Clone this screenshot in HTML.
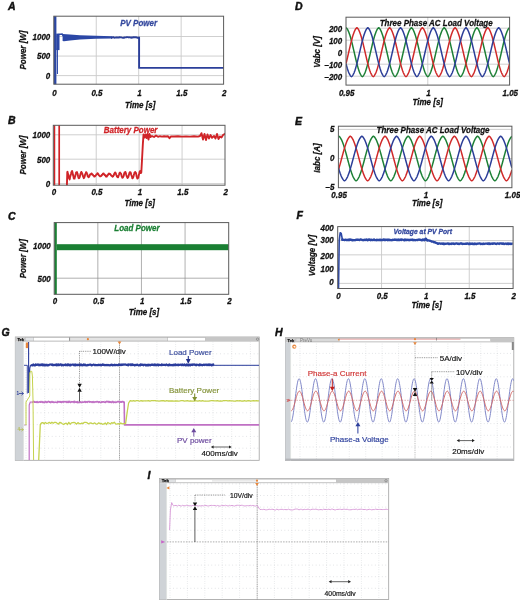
<!DOCTYPE html><html><head><meta charset="utf-8"><style>html,body{margin:0;padding:0;background:#fff;}svg{display:block;}</style></head><body>
<svg width="520" height="601" viewBox="0 0 520 601" style="font-family:&quot;Liberation Sans&quot;,sans-serif">
<rect width="520" height="601" fill="#fff"/>
<g opacity="0.999">
<text x="8.00" y="9.50" font-size="10.5" text-anchor="start" fill="#111" style="font-weight:bold;font-style:italic"  stroke="#111" stroke-width="0.45">A</text>
<text x="8.00" y="124.00" font-size="10.5" text-anchor="start" fill="#111" style="font-weight:bold;font-style:italic"  stroke="#111" stroke-width="0.45">B</text>
<text x="8.00" y="219.50" font-size="10.5" text-anchor="start" fill="#111" style="font-weight:bold;font-style:italic"  stroke="#111" stroke-width="0.45">C</text>
<text x="295.00" y="9.70" font-size="10.5" text-anchor="start" fill="#111" style="font-weight:bold;font-style:italic"  stroke="#111" stroke-width="0.45">D</text>
<text x="295.00" y="124.50" font-size="10.5" text-anchor="start" fill="#111" style="font-weight:bold;font-style:italic"  stroke="#111" stroke-width="0.45">E</text>
<text x="296.50" y="219.00" font-size="10.5" text-anchor="start" fill="#111" style="font-weight:bold;font-style:italic"  stroke="#111" stroke-width="0.45">F</text>
<text x="1.50" y="336.00" font-size="10.5" text-anchor="start" fill="#111" style="font-weight:bold;font-style:italic"  stroke="#111" stroke-width="0.45">G</text>
<text x="275.00" y="335.80" font-size="10.5" text-anchor="start" fill="#111" style="font-weight:bold;font-style:italic"  stroke="#111" stroke-width="0.45">H</text>
<text x="147.50" y="479.00" font-size="10.5" text-anchor="start" fill="#111" style="font-weight:bold;font-style:italic"  stroke="#111" stroke-width="0.45">I</text>
<line x1="96.25" y1="16.20" x2="96.25" y2="84.20" stroke="#c9c9c9" stroke-width="0.9" />
<line x1="138.70" y1="16.20" x2="138.70" y2="84.20" stroke="#c9c9c9" stroke-width="0.9" />
<line x1="181.15" y1="16.20" x2="181.15" y2="84.20" stroke="#c9c9c9" stroke-width="0.9" />
<line x1="53.80" y1="75.60" x2="223.60" y2="75.60" stroke="#c9c9c9" stroke-width="0.9" />
<line x1="53.80" y1="56.05" x2="223.60" y2="56.05" stroke="#c9c9c9" stroke-width="0.9" />
<line x1="53.80" y1="36.50" x2="223.60" y2="36.50" stroke="#c9c9c9" stroke-width="0.9" />
<clipPath id="cA"><rect x="53.8" y="16.2" width="169.8" height="68.0"/></clipPath>
<text x="0" y="0" transform="translate(54.50,95.70) scale(1.0,1.1)" font-size="8" text-anchor="middle" fill="#111" style="font-weight:bold;font-style:italic"  stroke="#111" stroke-width="0.25">0</text>
<text x="0" y="0" transform="translate(96.95,95.70) scale(1.0,1.1)" font-size="8" text-anchor="middle" fill="#111" style="font-weight:bold;font-style:italic"  stroke="#111" stroke-width="0.25">0.5</text>
<text x="0" y="0" transform="translate(139.40,95.70) scale(1.0,1.1)" font-size="8" text-anchor="middle" fill="#111" style="font-weight:bold;font-style:italic"  stroke="#111" stroke-width="0.25">1</text>
<text x="0" y="0" transform="translate(181.85,95.70) scale(1.0,1.1)" font-size="8" text-anchor="middle" fill="#111" style="font-weight:bold;font-style:italic"  stroke="#111" stroke-width="0.25">1.5</text>
<text x="0" y="0" transform="translate(224.30,95.70) scale(1.0,1.1)" font-size="8" text-anchor="middle" fill="#111" style="font-weight:bold;font-style:italic"  stroke="#111" stroke-width="0.25">2</text>
<text x="0" y="0" transform="translate(50.30,78.70) scale(1.0,1.1)" font-size="8" text-anchor="end" fill="#111" style="font-weight:bold;font-style:italic"  stroke="#111" stroke-width="0.25">0</text>
<text x="0" y="0" transform="translate(50.30,59.15) scale(1.0,1.1)" font-size="8" text-anchor="end" fill="#111" style="font-weight:bold;font-style:italic"  stroke="#111" stroke-width="0.25">500</text>
<text x="0" y="0" transform="translate(50.30,39.60) scale(1.0,1.1)" font-size="8" text-anchor="end" fill="#111" style="font-weight:bold;font-style:italic"  stroke="#111" stroke-width="0.25">1000</text>
<text x="0" y="0" transform="translate(140.20,107.90) scale(1.0,1.1)" font-size="8" text-anchor="middle" fill="#111" style="font-weight:bold;font-style:italic"  stroke="#111" stroke-width="0.25">Time [s]</text>
<text x="0" y="0" font-size="8" text-anchor="middle" fill="#111" stroke="#111" stroke-width="0.25" style="font-weight:bold;font-style:italic" transform="translate(26.30,50.00) rotate(-90) scale(1,1.1)">Power [W]</text>
<g clip-path="url(#cA)">
<rect x="53.50" y="15.00" width="2.90" height="70.00" fill="#2b47a6" />
<rect x="56.20" y="33.60" width="3.30" height="16.50" fill="#2b47a6" />
<line x1="57.40" y1="48.00" x2="57.40" y2="74.00" stroke="#2b47a6" stroke-width="1.1" />
<path d="M58.50,34.40 L62.30,34.10 L63.20,36.00" fill="none" stroke="#2b47a6" stroke-width="1.5" stroke-linejoin="round" />
<path d="M62.60,34.00 L70.00,34.60 L80.00,35.20 L95.80,35.80 L112.00,36.30 L112.00,38.50 L95.80,38.80 L80.00,39.60 L70.00,40.40 L64.00,41.30 L62.60,41.00Z" fill="#2b47a6"/>
<path d="M111.00,37.77 L111.80,37.76 L112.60,37.14 L113.40,37.16 L114.20,37.68 L115.00,37.62 L115.80,37.57 L116.60,37.32 L117.40,37.52 L118.20,37.52 L119.00,37.51 L119.80,37.21 L120.60,37.40 L121.40,37.38 L122.20,37.61 L123.00,37.80 L123.80,37.76 L124.60,37.48 L125.40,37.41 L126.20,37.29 L127.00,37.13 L127.80,37.12 L128.60,37.43 L129.40,37.32 L130.20,37.37 L131.00,37.72 L131.80,37.47 L132.60,37.49 L133.40,37.27 L134.20,37.12 L135.00,37.33 L135.80,37.20 L136.60,37.46 L137.40,37.80 L138.20,37.57 L139.10,37.40 L139.10,67.90 L224.50,67.90" fill="none" stroke="#2b3f9a" stroke-width="1.9" stroke-linejoin="round" />
</g>
<rect x="53.8" y="16.2" width="169.8" height="68.0" fill="none" stroke="#5a5a5a" stroke-width="1"/>
<text x="0" y="0" transform="translate(120.20,25.60) scale(1.0,1.1)" font-size="8" text-anchor="start" fill="#34489e" style="font-weight:bold;font-style:italic"  stroke="#34489e" stroke-width="0.25">PV Power</text>
<line x1="96.22" y1="125.30" x2="96.22" y2="185.20" stroke="#c9c9c9" stroke-width="0.9" />
<line x1="139.15" y1="125.30" x2="139.15" y2="185.20" stroke="#c9c9c9" stroke-width="0.9" />
<line x1="182.07" y1="125.30" x2="182.07" y2="185.20" stroke="#c9c9c9" stroke-width="0.9" />
<line x1="53.30" y1="183.60" x2="225.00" y2="183.60" stroke="#c9c9c9" stroke-width="0.9" />
<line x1="53.30" y1="159.20" x2="225.00" y2="159.20" stroke="#c9c9c9" stroke-width="0.9" />
<line x1="53.30" y1="134.80" x2="225.00" y2="134.80" stroke="#c9c9c9" stroke-width="0.9" />
<clipPath id="cB"><rect x="53.3" y="125.3" width="171.7" height="59.89999999999999"/></clipPath>
<text x="0" y="0" transform="translate(54.00,194.60) scale(1.0,1.1)" font-size="8" text-anchor="middle" fill="#111" style="font-weight:bold;font-style:italic"  stroke="#111" stroke-width="0.25">0</text>
<text x="0" y="0" transform="translate(96.92,194.60) scale(1.0,1.1)" font-size="8" text-anchor="middle" fill="#111" style="font-weight:bold;font-style:italic"  stroke="#111" stroke-width="0.25">0.5</text>
<text x="0" y="0" transform="translate(139.85,194.60) scale(1.0,1.1)" font-size="8" text-anchor="middle" fill="#111" style="font-weight:bold;font-style:italic"  stroke="#111" stroke-width="0.25">1</text>
<text x="0" y="0" transform="translate(182.77,194.60) scale(1.0,1.1)" font-size="8" text-anchor="middle" fill="#111" style="font-weight:bold;font-style:italic"  stroke="#111" stroke-width="0.25">1.5</text>
<text x="0" y="0" transform="translate(225.70,194.60) scale(1.0,1.1)" font-size="8" text-anchor="middle" fill="#111" style="font-weight:bold;font-style:italic"  stroke="#111" stroke-width="0.25">2</text>
<text x="0" y="0" transform="translate(50.30,187.00) scale(1.0,1.1)" font-size="8" text-anchor="end" fill="#111" style="font-weight:bold;font-style:italic"  stroke="#111" stroke-width="0.25">0</text>
<text x="0" y="0" transform="translate(50.30,162.60) scale(1.0,1.1)" font-size="8" text-anchor="end" fill="#111" style="font-weight:bold;font-style:italic"  stroke="#111" stroke-width="0.25">500</text>
<text x="0" y="0" transform="translate(50.30,138.20) scale(1.0,1.1)" font-size="8" text-anchor="end" fill="#111" style="font-weight:bold;font-style:italic"  stroke="#111" stroke-width="0.25">1000</text>
<text x="0" y="0" transform="translate(139.75,205.50) scale(1.0,1.1)" font-size="8" text-anchor="middle" fill="#111" style="font-weight:bold;font-style:italic"  stroke="#111" stroke-width="0.25">Time [s]</text>
<text x="0" y="0" font-size="8" text-anchor="middle" fill="#111" stroke="#111" stroke-width="0.25" style="font-weight:bold;font-style:italic" transform="translate(26.30,155.00) rotate(-90) scale(1,1.1)">Power [W]</text>
<g clip-path="url(#cB)">
<path d="M54.40,187.00 L54.40,122.00 L59.20,122.00 L59.20,187.00 L66.90,187.00" fill="none" stroke="#d02428" stroke-width="1.7" stroke-linejoin="round" />
<path d="M66.90,186.00 L67.30,172.00 L67.30,172.01 L67.55,171.84 L67.80,173.33 L68.05,173.92 L68.30,175.09 L68.55,176.06 L68.80,177.25 L69.05,178.39 L69.30,177.92 L69.55,179.46 L69.80,178.80 L70.05,176.97 L70.30,176.35 L70.55,175.47 L70.80,174.59 L71.05,173.75 L71.30,172.43 L71.55,171.96 L71.80,171.68 L72.05,171.00 L72.30,171.63 L72.55,172.75 L72.80,173.95 L73.05,175.14 L73.30,175.91 L73.55,177.14 L73.80,178.50 L74.05,178.03 L74.30,178.18 L74.55,178.59 L74.80,176.76 L75.05,177.08 L75.30,175.63 L75.55,174.72 L75.80,173.80 L76.05,172.75 L76.30,172.30 L76.55,172.30 L76.80,172.15 L77.05,172.25 L77.30,173.48 L77.55,173.60 L77.80,174.89 L78.05,176.20 L78.30,176.93 L78.55,177.92 L78.80,178.30 L79.05,177.71 L79.30,178.06 L79.55,177.14 L79.80,176.82 L80.05,175.60 L80.30,174.70 L80.55,173.72 L80.80,173.32 L81.05,172.39 L81.30,171.90 L81.55,172.73 L81.80,172.57 L82.05,173.21 L82.30,173.77 L82.55,174.64 L82.80,175.57 L83.05,176.45 L83.30,176.95 L83.55,177.49 L83.80,178.17 L84.05,177.16 L84.30,177.56 L84.55,176.53 L84.80,176.09 L85.05,174.78 L85.30,174.05 L85.55,173.69 L85.80,173.39 L86.05,172.15 L86.30,172.32 L86.55,172.50 L86.80,173.18 L87.05,173.94 L87.30,174.23 L87.55,175.57 L87.80,176.37 L88.05,176.36 L88.30,176.94 L88.55,177.19 L88.80,177.22 L89.05,176.62 L89.30,176.36 L89.55,175.91 L89.80,175.18 L90.05,174.46 L90.30,174.41 L90.55,174.34 L90.80,174.12 L91.05,173.79 L91.30,174.12 L91.55,173.39 L91.80,174.21 L92.05,173.92 L92.30,174.59 L92.55,174.51 L92.80,174.62 L93.05,175.23 L93.30,175.51 L93.55,175.66 L93.80,175.85 L94.05,176.23 L94.30,176.60 L94.55,176.09 L94.80,176.10 L95.05,176.31 L95.30,175.59 L95.55,175.55 L95.80,175.27 L96.05,174.89 L96.30,174.60 L96.55,174.18 L96.80,174.28 L97.05,173.89 L97.30,173.81 L97.55,173.18 L97.80,173.81 L98.05,173.85 L98.30,174.01 L98.55,174.88 L98.80,174.88 L99.05,175.49 L99.30,175.45 L99.55,175.89 L99.80,176.02 L100.05,176.35 L100.30,176.38 L100.55,176.21 L100.80,176.08 L101.05,175.82 L101.30,175.83 L101.55,175.48 L101.80,174.88 L102.05,174.62 L102.30,174.77 L102.55,174.49 L102.80,173.85 L103.05,174.01 L103.30,174.01 L103.55,173.47 L103.80,174.09 L104.05,174.07 L104.30,174.53 L104.55,174.38 L104.80,175.10 L105.05,174.99 L105.30,175.44 L105.55,175.71 L105.80,176.42 L106.05,176.67 L106.30,176.10 L106.55,176.30 L106.80,176.44 L107.05,175.59 L107.30,175.88 L107.55,175.42 L107.80,175.00 L108.05,174.68 L108.30,174.55 L108.55,173.75 L108.80,174.11 L109.05,173.50 L109.30,173.56 L109.55,173.96 L109.80,173.84 L110.05,173.92 L110.30,174.18 L110.55,174.71 L110.80,174.92 L111.05,175.41 L111.30,175.23 L111.55,175.83 L111.80,175.94 L112.05,176.33 L112.30,176.33 L112.55,176.68 L112.80,176.08 L113.05,176.33 L113.30,175.98 L113.55,175.43 L113.80,175.36 L114.05,174.16 L114.30,174.05 L114.55,173.52 L114.80,172.78 L115.05,172.60 L115.30,172.49 L115.55,172.90 L115.80,173.64 L116.05,174.00 L116.30,174.83 L116.55,175.49 L116.80,176.23 L117.05,176.16 L117.30,177.05 L117.55,176.91 L117.80,176.70 L118.05,177.26 L118.30,176.70 L118.55,175.57 L118.80,175.23 L119.05,174.51 L119.30,173.52 L119.55,173.16 L119.80,172.65 L120.05,172.54 L120.30,173.28 L120.55,173.05 L120.80,173.42 L121.05,173.83 L121.30,174.55 L121.55,175.71 L121.80,176.68 L122.05,176.55 L122.30,177.78 L122.55,177.28 L122.80,177.57 L123.05,177.18 L123.30,176.68 L123.55,176.13 L123.80,175.35 L124.05,174.23 L124.30,173.58 L124.55,172.38 L124.80,172.36 L125.05,172.62 L125.30,171.98 L125.55,172.21 L125.80,172.97 L126.05,173.90 L126.30,174.94 L126.55,175.73 L126.80,176.51 L127.05,176.91 L127.30,177.03 L127.55,178.07 L127.80,177.63 L128.05,177.35 L128.30,177.12 L128.55,176.08 L128.80,175.16 L129.05,174.30 L129.30,173.38 L129.55,172.51 L129.80,172.22 L130.05,172.45 L130.30,172.67 L130.55,172.26 L130.80,172.99 L131.05,174.02 L131.30,175.00 L131.55,175.62 L131.80,176.24 L132.05,176.95 L132.30,178.35 L132.55,177.64 L132.80,177.97 L133.05,177.82 L133.30,176.97 L133.55,175.99 L133.80,175.25 L134.05,174.13 L134.30,173.35 L134.55,172.49 L134.80,172.35 L135.05,172.10 L135.30,172.05 L135.55,172.63 L135.80,172.61 L136.05,173.48 L136.30,174.48 L136.55,176.19 L136.80,177.06 L137.05,177.26 L137.30,178.61 L137.55,178.59 L137.80,177.73 L138.05,177.44 L138.30,177.74 L138.55,176.04 L138.80,175.30 L139.05,173.96 L139.30,173.35 L139.55,172.35 L139.80,171.35 L140.05,171.11 L140.30,171.80 L140.55,171.96 L140.80,173.13 L141.30,172.50 L142.00,160.00 L142.80,145.00 L143.50,134.50 L144.50,137.50 L145.50,134.50 L146.50,138.00 L147.50,134.00 L148.50,139.50 L149.50,134.00 L150.50,137.00 L152.00,136.00 L154.00,137.00 L156.00,135.50 L158.00,136.80 L160.00,136.20 L162.00,136.60 L164.00,136.20 L166.00,136.50 L168.00,136.30 L169.50,138.20 L171.00,136.40 L174.00,136.50 L178.00,136.30 L182.00,136.60 L186.00,136.40 L190.00,136.60 L194.00,136.30 L198.00,136.60 L200.00,136.00 L201.50,133.20 L203.00,139.50 L204.50,134.00 L206.00,140.00 L207.50,134.50 L209.00,138.50 L210.50,135.00 L212.00,137.80 L214.00,136.00 L215.50,138.50 L217.00,134.00 L218.50,139.00 L220.00,136.50 L221.50,137.50 L223.00,135.00 L225.50,133.50" fill="none" stroke="#d02428" stroke-width="1.9" stroke-linejoin="round" />
</g>
<rect x="53.3" y="125.3" width="171.7" height="59.89999999999999" fill="none" stroke="#5a5a5a" stroke-width="1"/>
<text x="0" y="0" transform="translate(103.80,133.00) scale(1.0,1.1)" font-size="8" text-anchor="start" fill="#d02428" style="font-weight:bold;font-style:italic"  stroke="#d02428" stroke-width="0.25">Battery Power</text>
<line x1="97.83" y1="222.60" x2="97.83" y2="294.30" stroke="#8e8e8e" stroke-width="0.7" />
<line x1="141.45" y1="222.60" x2="141.45" y2="294.30" stroke="#8e8e8e" stroke-width="0.7" />
<line x1="185.07" y1="222.60" x2="185.07" y2="294.30" stroke="#8e8e8e" stroke-width="0.7" />
<line x1="54.20" y1="278.20" x2="228.70" y2="278.20" stroke="#8e8e8e" stroke-width="0.7" />
<line x1="54.20" y1="245.70" x2="228.70" y2="245.70" stroke="#8e8e8e" stroke-width="0.7" />
<clipPath id="cC"><rect x="54.2" y="222.6" width="174.5" height="71.70000000000002"/></clipPath>
<text x="0" y="0" transform="translate(54.90,303.90) scale(1.0,1.1)" font-size="8" text-anchor="middle" fill="#111" style="font-weight:bold;font-style:italic"  stroke="#111" stroke-width="0.25">0</text>
<text x="0" y="0" transform="translate(98.53,303.90) scale(1.0,1.1)" font-size="8" text-anchor="middle" fill="#111" style="font-weight:bold;font-style:italic"  stroke="#111" stroke-width="0.25">0.5</text>
<text x="0" y="0" transform="translate(142.15,303.90) scale(1.0,1.1)" font-size="8" text-anchor="middle" fill="#111" style="font-weight:bold;font-style:italic"  stroke="#111" stroke-width="0.25">1</text>
<text x="0" y="0" transform="translate(185.77,303.90) scale(1.0,1.1)" font-size="8" text-anchor="middle" fill="#111" style="font-weight:bold;font-style:italic"  stroke="#111" stroke-width="0.25">1.5</text>
<text x="0" y="0" transform="translate(229.40,303.90) scale(1.0,1.1)" font-size="8" text-anchor="middle" fill="#111" style="font-weight:bold;font-style:italic"  stroke="#111" stroke-width="0.25">2</text>
<text x="0" y="0" transform="translate(50.80,281.60) scale(1.0,1.1)" font-size="8" text-anchor="end" fill="#111" style="font-weight:bold;font-style:italic"  stroke="#111" stroke-width="0.25">500</text>
<text x="0" y="0" transform="translate(50.80,249.10) scale(1.0,1.1)" font-size="8" text-anchor="end" fill="#111" style="font-weight:bold;font-style:italic"  stroke="#111" stroke-width="0.25">1000</text>
<text x="0" y="0" transform="translate(143.95,314.90) scale(1.0,1.1)" font-size="8" text-anchor="middle" fill="#111" style="font-weight:bold;font-style:italic"  stroke="#111" stroke-width="0.25">Time [s]</text>
<text x="0" y="0" font-size="8" text-anchor="middle" fill="#111" stroke="#111" stroke-width="0.25" style="font-weight:bold;font-style:italic" transform="translate(26.30,258.70) rotate(-90) scale(1,1.1)">Power [W]</text>
<g clip-path="url(#cC)">
<rect x="54.20" y="222.00" width="2.60" height="73.00" fill="#1a7f33" />
<rect x="56.82" y="244.20" width="171.88" height="6.00" fill="#1a7f33" />
</g>
<rect x="54.2" y="222.6" width="174.5" height="71.70000000000002" fill="none" stroke="#5a5a5a" stroke-width="1"/>
<text x="0" y="0" transform="translate(114.30,231.00) scale(1.0,1.1)" font-size="8" text-anchor="start" fill="#1a7f33" style="font-weight:bold;font-style:italic"  stroke="#1a7f33" stroke-width="0.25">Load Power</text>
<line x1="427.80" y1="17.20" x2="427.80" y2="85.10" stroke="#c9c9c9" stroke-width="0.9" />
<line x1="346.00" y1="76.20" x2="509.60" y2="76.20" stroke="#c9c9c9" stroke-width="0.9" />
<line x1="346.00" y1="64.20" x2="509.60" y2="64.20" stroke="#c9c9c9" stroke-width="0.9" />
<line x1="346.00" y1="52.20" x2="509.60" y2="52.20" stroke="#c9c9c9" stroke-width="0.9" />
<line x1="346.00" y1="40.20" x2="509.60" y2="40.20" stroke="#c9c9c9" stroke-width="0.9" />
<line x1="346.00" y1="28.20" x2="509.60" y2="28.20" stroke="#c9c9c9" stroke-width="0.9" />
<clipPath id="cD"><rect x="346" y="17.2" width="163.60000000000002" height="67.89999999999999"/></clipPath>
<text x="0" y="0" transform="translate(346.70,96.10) scale(1.0,1.1)" font-size="8" text-anchor="middle" fill="#111" style="font-weight:bold;font-style:italic"  stroke="#111" stroke-width="0.25">0.95</text>
<text x="0" y="0" transform="translate(428.50,96.10) scale(1.0,1.1)" font-size="8" text-anchor="middle" fill="#111" style="font-weight:bold;font-style:italic"  stroke="#111" stroke-width="0.25">1</text>
<text x="0" y="0" transform="translate(510.30,96.10) scale(1.0,1.1)" font-size="8" text-anchor="middle" fill="#111" style="font-weight:bold;font-style:italic"  stroke="#111" stroke-width="0.25">1.05</text>
<text x="0" y="0" transform="translate(342.20,79.60) scale(1.0,1.1)" font-size="8" text-anchor="end" fill="#111" style="font-weight:bold;font-style:italic"  stroke="#111" stroke-width="0.25">&#8211;200</text>
<text x="0" y="0" transform="translate(342.20,67.60) scale(1.0,1.1)" font-size="8" text-anchor="end" fill="#111" style="font-weight:bold;font-style:italic"  stroke="#111" stroke-width="0.25">&#8211;100</text>
<text x="0" y="0" transform="translate(342.20,55.60) scale(1.0,1.1)" font-size="8" text-anchor="end" fill="#111" style="font-weight:bold;font-style:italic"  stroke="#111" stroke-width="0.25">0</text>
<text x="0" y="0" transform="translate(342.20,43.60) scale(1.0,1.1)" font-size="8" text-anchor="end" fill="#111" style="font-weight:bold;font-style:italic"  stroke="#111" stroke-width="0.25">100</text>
<text x="0" y="0" transform="translate(342.20,31.60) scale(1.0,1.1)" font-size="8" text-anchor="end" fill="#111" style="font-weight:bold;font-style:italic"  stroke="#111" stroke-width="0.25">200</text>
<text x="0" y="0" transform="translate(427.80,105.30) scale(1.0,1.1)" font-size="8" text-anchor="middle" fill="#111" style="font-weight:bold;font-style:italic"  stroke="#111" stroke-width="0.25">Time [s]</text>
<text x="0" y="0" font-size="8" text-anchor="middle" fill="#111" stroke="#111" stroke-width="0.25" style="font-weight:bold;font-style:italic" transform="translate(320.00,52.00) rotate(-90) scale(1,1.1)">Vabc [V]</text>
<g clip-path="url(#cD)">
<path d="M346.00,27.72 L346.27,27.91 L346.55,28.15 L346.82,28.45 L347.09,28.80 L347.36,29.20 L347.64,29.66 L347.91,30.16 L348.18,30.72 L348.45,31.32 L348.73,31.97 L349.00,32.67 L349.27,33.42 L349.54,34.20 L349.82,35.03 L350.09,35.90 L350.36,36.81 L350.64,37.75 L350.91,38.73 L351.18,39.74 L351.45,40.77 L351.73,41.84 L352.00,42.93 L352.27,44.04 L352.54,45.17 L352.82,46.31 L353.09,47.47 L353.36,48.65 L353.63,49.83 L353.91,51.01 L354.18,52.20 L354.45,53.39 L354.73,54.57 L355.00,55.75 L355.27,56.93 L355.54,58.09 L355.82,59.23 L356.09,60.36 L356.36,61.47 L356.63,62.56 L356.91,63.63 L357.18,64.66 L357.45,65.67 L357.72,66.65 L358.00,67.59 L358.27,68.50 L358.54,69.37 L358.82,70.20 L359.09,70.98 L359.36,71.73 L359.63,72.43 L359.91,73.08 L360.18,73.68 L360.45,74.24 L360.72,74.74 L361.00,75.20 L361.27,75.60 L361.54,75.95 L361.81,76.25 L362.09,76.49 L362.36,76.68 L362.63,76.49 L362.91,76.25 L363.18,75.95 L363.45,75.60 L363.72,75.20 L364.00,74.74 L364.27,74.24 L364.54,73.68 L364.81,73.08 L365.09,72.43 L365.36,71.73 L365.63,70.98 L365.90,70.20 L366.18,69.37 L366.45,68.50 L366.72,67.59 L367.00,66.65 L367.27,65.67 L367.54,64.66 L367.81,63.63 L368.09,62.56 L368.36,61.47 L368.63,60.36 L368.90,59.23 L369.18,58.09 L369.45,56.93 L369.72,55.75 L369.99,54.57 L370.27,53.39 L370.54,52.20 L370.81,51.01 L371.09,49.83 L371.36,48.65 L371.63,47.47 L371.90,46.31 L372.18,45.17 L372.45,44.04 L372.72,42.93 L372.99,41.84 L373.27,40.77 L373.54,39.74 L373.81,38.73 L374.08,37.75 L374.36,36.81 L374.63,35.90 L374.90,35.03 L375.18,34.20 L375.45,33.42 L375.72,32.67 L375.99,31.97 L376.27,31.32 L376.54,30.72 L376.81,30.16 L377.08,29.66 L377.36,29.20 L377.63,28.80 L377.90,28.45 L378.17,28.15 L378.45,27.91 L378.72,27.72 L378.99,27.91 L379.27,28.15 L379.54,28.45 L379.81,28.80 L380.08,29.20 L380.36,29.66 L380.63,30.16 L380.90,30.72 L381.17,31.32 L381.45,31.97 L381.72,32.67 L381.99,33.42 L382.26,34.20 L382.54,35.03 L382.81,35.90 L383.08,36.81 L383.36,37.75 L383.63,38.73 L383.90,39.74 L384.17,40.77 L384.45,41.84 L384.72,42.93 L384.99,44.04 L385.26,45.17 L385.54,46.31 L385.81,47.47 L386.08,48.65 L386.35,49.83 L386.63,51.01 L386.90,52.20 L387.17,53.39 L387.45,54.57 L387.72,55.75 L387.99,56.93 L388.26,58.09 L388.54,59.23 L388.81,60.36 L389.08,61.47 L389.35,62.56 L389.63,63.63 L389.90,64.66 L390.17,65.67 L390.44,66.65 L390.72,67.59 L390.99,68.50 L391.26,69.37 L391.54,70.20 L391.81,70.98 L392.08,71.73 L392.35,72.43 L392.63,73.08 L392.90,73.68 L393.17,74.24 L393.44,74.74 L393.72,75.20 L393.99,75.60 L394.26,75.95 L394.53,76.25 L394.81,76.49 L395.08,76.68 L395.35,76.49 L395.63,76.25 L395.90,75.95 L396.17,75.60 L396.44,75.20 L396.72,74.74 L396.99,74.24 L397.26,73.68 L397.53,73.08 L397.81,72.43 L398.08,71.73 L398.35,70.98 L398.62,70.20 L398.90,69.37 L399.17,68.50 L399.44,67.59 L399.72,66.65 L399.99,65.67 L400.26,64.66 L400.53,63.63 L400.81,62.56 L401.08,61.47 L401.35,60.36 L401.62,59.23 L401.90,58.09 L402.17,56.93 L402.44,55.75 L402.71,54.57 L402.99,53.39 L403.26,52.20 L403.53,51.01 L403.81,49.83 L404.08,48.65 L404.35,47.47 L404.62,46.31 L404.90,45.17 L405.17,44.04 L405.44,42.93 L405.71,41.84 L405.99,40.77 L406.26,39.74 L406.53,38.73 L406.80,37.75 L407.08,36.81 L407.35,35.90 L407.62,35.03 L407.90,34.20 L408.17,33.42 L408.44,32.67 L408.71,31.97 L408.99,31.32 L409.26,30.72 L409.53,30.16 L409.80,29.66 L410.08,29.20 L410.35,28.80 L410.62,28.45 L410.89,28.15 L411.17,27.91 L411.44,27.72 L411.71,27.91 L411.99,28.15 L412.26,28.45 L412.53,28.80 L412.80,29.20 L413.08,29.66 L413.35,30.16 L413.62,30.72 L413.89,31.32 L414.17,31.97 L414.44,32.67 L414.71,33.42 L414.98,34.20 L415.26,35.03 L415.53,35.90 L415.80,36.81 L416.08,37.75 L416.35,38.73 L416.62,39.74 L416.89,40.77 L417.17,41.84 L417.44,42.93 L417.71,44.04 L417.98,45.17 L418.26,46.31 L418.53,47.47 L418.80,48.65 L419.07,49.83 L419.35,51.01 L419.62,52.20 L419.89,53.39 L420.17,54.57 L420.44,55.75 L420.71,56.93 L420.98,58.09 L421.26,59.23 L421.53,60.36 L421.80,61.47 L422.07,62.56 L422.35,63.63 L422.62,64.66 L422.89,65.67 L423.16,66.65 L423.44,67.59 L423.71,68.50 L423.98,69.37 L424.26,70.20 L424.53,70.98 L424.80,71.73 L425.07,72.43 L425.35,73.08 L425.62,73.68 L425.89,74.24 L426.16,74.74 L426.44,75.20 L426.71,75.60 L426.98,75.95 L427.25,76.25 L427.53,76.49 L427.80,76.68 L428.07,76.49 L428.35,76.25 L428.62,75.95 L428.89,75.60 L429.16,75.20 L429.44,74.74 L429.71,74.24 L429.98,73.68 L430.25,73.08 L430.53,72.43 L430.80,71.73 L431.07,70.98 L431.34,70.20 L431.62,69.37 L431.89,68.50 L432.16,67.59 L432.44,66.65 L432.71,65.67 L432.98,64.66 L433.25,63.63 L433.53,62.56 L433.80,61.47 L434.07,60.36 L434.34,59.23 L434.62,58.09 L434.89,56.93 L435.16,55.75 L435.43,54.57 L435.71,53.39 L435.98,52.20 L436.25,51.01 L436.53,49.83 L436.80,48.65 L437.07,47.47 L437.34,46.31 L437.62,45.17 L437.89,44.04 L438.16,42.93 L438.43,41.84 L438.71,40.77 L438.98,39.74 L439.25,38.73 L439.52,37.75 L439.80,36.81 L440.07,35.90 L440.34,35.03 L440.62,34.20 L440.89,33.42 L441.16,32.67 L441.43,31.97 L441.71,31.32 L441.98,30.72 L442.25,30.16 L442.52,29.66 L442.80,29.20 L443.07,28.80 L443.34,28.45 L443.61,28.15 L443.89,27.91 L444.16,27.72 L444.43,27.91 L444.71,28.15 L444.98,28.45 L445.25,28.80 L445.52,29.20 L445.80,29.66 L446.07,30.16 L446.34,30.72 L446.61,31.32 L446.89,31.97 L447.16,32.67 L447.43,33.42 L447.70,34.20 L447.98,35.03 L448.25,35.90 L448.52,36.81 L448.80,37.75 L449.07,38.73 L449.34,39.74 L449.61,40.77 L449.89,41.84 L450.16,42.93 L450.43,44.04 L450.70,45.17 L450.98,46.31 L451.25,47.47 L451.52,48.65 L451.79,49.83 L452.07,51.01 L452.34,52.20 L452.61,53.39 L452.89,54.57 L453.16,55.75 L453.43,56.93 L453.70,58.09 L453.98,59.23 L454.25,60.36 L454.52,61.47 L454.79,62.56 L455.07,63.63 L455.34,64.66 L455.61,65.67 L455.88,66.65 L456.16,67.59 L456.43,68.50 L456.70,69.37 L456.98,70.20 L457.25,70.98 L457.52,71.73 L457.79,72.43 L458.07,73.08 L458.34,73.68 L458.61,74.24 L458.88,74.74 L459.16,75.20 L459.43,75.60 L459.70,75.95 L459.97,76.25 L460.25,76.49 L460.52,76.68 L460.79,76.49 L461.07,76.25 L461.34,75.95 L461.61,75.60 L461.88,75.20 L462.16,74.74 L462.43,74.24 L462.70,73.68 L462.97,73.08 L463.25,72.43 L463.52,71.73 L463.79,70.98 L464.06,70.20 L464.34,69.37 L464.61,68.50 L464.88,67.59 L465.16,66.65 L465.43,65.67 L465.70,64.66 L465.97,63.63 L466.25,62.56 L466.52,61.47 L466.79,60.36 L467.06,59.23 L467.34,58.09 L467.61,56.93 L467.88,55.75 L468.15,54.57 L468.43,53.39 L468.70,52.20 L468.97,51.01 L469.25,49.83 L469.52,48.65 L469.79,47.47 L470.06,46.31 L470.34,45.17 L470.61,44.04 L470.88,42.93 L471.15,41.84 L471.43,40.77 L471.70,39.74 L471.97,38.73 L472.24,37.75 L472.52,36.81 L472.79,35.90 L473.06,35.03 L473.34,34.20 L473.61,33.42 L473.88,32.67 L474.15,31.97 L474.43,31.32 L474.70,30.72 L474.97,30.16 L475.24,29.66 L475.52,29.20 L475.79,28.80 L476.06,28.45 L476.33,28.15 L476.61,27.91 L476.88,27.72 L477.15,27.91 L477.43,28.15 L477.70,28.45 L477.97,28.80 L478.24,29.20 L478.52,29.66 L478.79,30.16 L479.06,30.72 L479.33,31.32 L479.61,31.97 L479.88,32.67 L480.15,33.42 L480.42,34.20 L480.70,35.03 L480.97,35.90 L481.24,36.81 L481.52,37.75 L481.79,38.73 L482.06,39.74 L482.33,40.77 L482.61,41.84 L482.88,42.93 L483.15,44.04 L483.42,45.17 L483.70,46.31 L483.97,47.47 L484.24,48.65 L484.51,49.83 L484.79,51.01 L485.06,52.20 L485.33,53.39 L485.61,54.57 L485.88,55.75 L486.15,56.93 L486.42,58.09 L486.70,59.23 L486.97,60.36 L487.24,61.47 L487.51,62.56 L487.79,63.63 L488.06,64.66 L488.33,65.67 L488.60,66.65 L488.88,67.59 L489.15,68.50 L489.42,69.37 L489.70,70.20 L489.97,70.98 L490.24,71.73 L490.51,72.43 L490.79,73.08 L491.06,73.68 L491.33,74.24 L491.60,74.74 L491.88,75.20 L492.15,75.60 L492.42,75.95 L492.69,76.25 L492.97,76.49 L493.24,76.68 L493.51,76.49 L493.79,76.25 L494.06,75.95 L494.33,75.60 L494.60,75.20 L494.88,74.74 L495.15,74.24 L495.42,73.68 L495.69,73.08 L495.97,72.43 L496.24,71.73 L496.51,70.98 L496.78,70.20 L497.06,69.37 L497.33,68.50 L497.60,67.59 L497.88,66.65 L498.15,65.67 L498.42,64.66 L498.69,63.63 L498.97,62.56 L499.24,61.47 L499.51,60.36 L499.78,59.23 L500.06,58.09 L500.33,56.93 L500.60,55.75 L500.87,54.57 L501.15,53.39 L501.42,52.20 L501.69,51.01 L501.97,49.83 L502.24,48.65 L502.51,47.47 L502.78,46.31 L503.06,45.17 L503.33,44.04 L503.60,42.93 L503.87,41.84 L504.15,40.77 L504.42,39.74 L504.69,38.73 L504.96,37.75 L505.24,36.81 L505.51,35.90 L505.78,35.03 L506.06,34.20 L506.33,33.42 L506.60,32.67 L506.87,31.97 L507.15,31.32 L507.42,30.72 L507.69,30.16 L507.96,29.66 L508.24,29.20 L508.51,28.80 L508.78,28.45 L509.05,28.15 L509.33,27.91 L509.60,27.72" fill="none" stroke="#1d8036" stroke-width="1.5" stroke-linejoin="round" />
<path d="M346.00,63.63 L346.27,62.56 L346.55,61.47 L346.82,60.36 L347.09,59.23 L347.36,58.09 L347.64,56.93 L347.91,55.75 L348.18,54.57 L348.45,53.39 L348.73,52.20 L349.00,51.01 L349.27,49.83 L349.54,48.65 L349.82,47.47 L350.09,46.31 L350.36,45.17 L350.64,44.04 L350.91,42.93 L351.18,41.84 L351.45,40.77 L351.73,39.74 L352.00,38.73 L352.27,37.75 L352.54,36.81 L352.82,35.90 L353.09,35.03 L353.36,34.20 L353.63,33.42 L353.91,32.67 L354.18,31.97 L354.45,31.32 L354.73,30.72 L355.00,30.16 L355.27,29.66 L355.54,29.20 L355.82,28.80 L356.09,28.45 L356.36,28.15 L356.63,27.91 L356.91,27.72 L357.18,27.91 L357.45,28.15 L357.72,28.45 L358.00,28.80 L358.27,29.20 L358.54,29.66 L358.82,30.16 L359.09,30.72 L359.36,31.32 L359.63,31.97 L359.91,32.67 L360.18,33.42 L360.45,34.20 L360.72,35.03 L361.00,35.90 L361.27,36.81 L361.54,37.75 L361.81,38.73 L362.09,39.74 L362.36,40.77 L362.63,41.84 L362.91,42.93 L363.18,44.04 L363.45,45.17 L363.72,46.31 L364.00,47.47 L364.27,48.65 L364.54,49.83 L364.81,51.01 L365.09,52.20 L365.36,53.39 L365.63,54.57 L365.90,55.75 L366.18,56.93 L366.45,58.09 L366.72,59.23 L367.00,60.36 L367.27,61.47 L367.54,62.56 L367.81,63.63 L368.09,64.66 L368.36,65.67 L368.63,66.65 L368.90,67.59 L369.18,68.50 L369.45,69.37 L369.72,70.20 L369.99,70.98 L370.27,71.73 L370.54,72.43 L370.81,73.08 L371.09,73.68 L371.36,74.24 L371.63,74.74 L371.90,75.20 L372.18,75.60 L372.45,75.95 L372.72,76.25 L372.99,76.49 L373.27,76.68 L373.54,76.49 L373.81,76.25 L374.08,75.95 L374.36,75.60 L374.63,75.20 L374.90,74.74 L375.18,74.24 L375.45,73.68 L375.72,73.08 L375.99,72.43 L376.27,71.73 L376.54,70.98 L376.81,70.20 L377.08,69.37 L377.36,68.50 L377.63,67.59 L377.90,66.65 L378.17,65.67 L378.45,64.66 L378.72,63.63 L378.99,62.56 L379.27,61.47 L379.54,60.36 L379.81,59.23 L380.08,58.09 L380.36,56.93 L380.63,55.75 L380.90,54.57 L381.17,53.39 L381.45,52.20 L381.72,51.01 L381.99,49.83 L382.26,48.65 L382.54,47.47 L382.81,46.31 L383.08,45.17 L383.36,44.04 L383.63,42.93 L383.90,41.84 L384.17,40.77 L384.45,39.74 L384.72,38.73 L384.99,37.75 L385.26,36.81 L385.54,35.90 L385.81,35.03 L386.08,34.20 L386.35,33.42 L386.63,32.67 L386.90,31.97 L387.17,31.32 L387.45,30.72 L387.72,30.16 L387.99,29.66 L388.26,29.20 L388.54,28.80 L388.81,28.45 L389.08,28.15 L389.35,27.91 L389.63,27.72 L389.90,27.91 L390.17,28.15 L390.44,28.45 L390.72,28.80 L390.99,29.20 L391.26,29.66 L391.54,30.16 L391.81,30.72 L392.08,31.32 L392.35,31.97 L392.63,32.67 L392.90,33.42 L393.17,34.20 L393.44,35.03 L393.72,35.90 L393.99,36.81 L394.26,37.75 L394.53,38.73 L394.81,39.74 L395.08,40.77 L395.35,41.84 L395.63,42.93 L395.90,44.04 L396.17,45.17 L396.44,46.31 L396.72,47.47 L396.99,48.65 L397.26,49.83 L397.53,51.01 L397.81,52.20 L398.08,53.39 L398.35,54.57 L398.62,55.75 L398.90,56.93 L399.17,58.09 L399.44,59.23 L399.72,60.36 L399.99,61.47 L400.26,62.56 L400.53,63.63 L400.81,64.66 L401.08,65.67 L401.35,66.65 L401.62,67.59 L401.90,68.50 L402.17,69.37 L402.44,70.20 L402.71,70.98 L402.99,71.73 L403.26,72.43 L403.53,73.08 L403.81,73.68 L404.08,74.24 L404.35,74.74 L404.62,75.20 L404.90,75.60 L405.17,75.95 L405.44,76.25 L405.71,76.49 L405.99,76.68 L406.26,76.49 L406.53,76.25 L406.80,75.95 L407.08,75.60 L407.35,75.20 L407.62,74.74 L407.90,74.24 L408.17,73.68 L408.44,73.08 L408.71,72.43 L408.99,71.73 L409.26,70.98 L409.53,70.20 L409.80,69.37 L410.08,68.50 L410.35,67.59 L410.62,66.65 L410.89,65.67 L411.17,64.66 L411.44,63.63 L411.71,62.56 L411.99,61.47 L412.26,60.36 L412.53,59.23 L412.80,58.09 L413.08,56.93 L413.35,55.75 L413.62,54.57 L413.89,53.39 L414.17,52.20 L414.44,51.01 L414.71,49.83 L414.98,48.65 L415.26,47.47 L415.53,46.31 L415.80,45.17 L416.08,44.04 L416.35,42.93 L416.62,41.84 L416.89,40.77 L417.17,39.74 L417.44,38.73 L417.71,37.75 L417.98,36.81 L418.26,35.90 L418.53,35.03 L418.80,34.20 L419.07,33.42 L419.35,32.67 L419.62,31.97 L419.89,31.32 L420.17,30.72 L420.44,30.16 L420.71,29.66 L420.98,29.20 L421.26,28.80 L421.53,28.45 L421.80,28.15 L422.07,27.91 L422.35,27.72 L422.62,27.91 L422.89,28.15 L423.16,28.45 L423.44,28.80 L423.71,29.20 L423.98,29.66 L424.26,30.16 L424.53,30.72 L424.80,31.32 L425.07,31.97 L425.35,32.67 L425.62,33.42 L425.89,34.20 L426.16,35.03 L426.44,35.90 L426.71,36.81 L426.98,37.75 L427.25,38.73 L427.53,39.74 L427.80,40.77 L428.07,41.84 L428.35,42.93 L428.62,44.04 L428.89,45.17 L429.16,46.31 L429.44,47.47 L429.71,48.65 L429.98,49.83 L430.25,51.01 L430.53,52.20 L430.80,53.39 L431.07,54.57 L431.34,55.75 L431.62,56.93 L431.89,58.09 L432.16,59.23 L432.44,60.36 L432.71,61.47 L432.98,62.56 L433.25,63.63 L433.53,64.66 L433.80,65.67 L434.07,66.65 L434.34,67.59 L434.62,68.50 L434.89,69.37 L435.16,70.20 L435.43,70.98 L435.71,71.73 L435.98,72.43 L436.25,73.08 L436.53,73.68 L436.80,74.24 L437.07,74.74 L437.34,75.20 L437.62,75.60 L437.89,75.95 L438.16,76.25 L438.43,76.49 L438.71,76.68 L438.98,76.49 L439.25,76.25 L439.52,75.95 L439.80,75.60 L440.07,75.20 L440.34,74.74 L440.62,74.24 L440.89,73.68 L441.16,73.08 L441.43,72.43 L441.71,71.73 L441.98,70.98 L442.25,70.20 L442.52,69.37 L442.80,68.50 L443.07,67.59 L443.34,66.65 L443.61,65.67 L443.89,64.66 L444.16,63.63 L444.43,62.56 L444.71,61.47 L444.98,60.36 L445.25,59.23 L445.52,58.09 L445.80,56.93 L446.07,55.75 L446.34,54.57 L446.61,53.39 L446.89,52.20 L447.16,51.01 L447.43,49.83 L447.70,48.65 L447.98,47.47 L448.25,46.31 L448.52,45.17 L448.80,44.04 L449.07,42.93 L449.34,41.84 L449.61,40.77 L449.89,39.74 L450.16,38.73 L450.43,37.75 L450.70,36.81 L450.98,35.90 L451.25,35.03 L451.52,34.20 L451.79,33.42 L452.07,32.67 L452.34,31.97 L452.61,31.32 L452.89,30.72 L453.16,30.16 L453.43,29.66 L453.70,29.20 L453.98,28.80 L454.25,28.45 L454.52,28.15 L454.79,27.91 L455.07,27.72 L455.34,27.91 L455.61,28.15 L455.88,28.45 L456.16,28.80 L456.43,29.20 L456.70,29.66 L456.98,30.16 L457.25,30.72 L457.52,31.32 L457.79,31.97 L458.07,32.67 L458.34,33.42 L458.61,34.20 L458.88,35.03 L459.16,35.90 L459.43,36.81 L459.70,37.75 L459.97,38.73 L460.25,39.74 L460.52,40.77 L460.79,41.84 L461.07,42.93 L461.34,44.04 L461.61,45.17 L461.88,46.31 L462.16,47.47 L462.43,48.65 L462.70,49.83 L462.97,51.01 L463.25,52.20 L463.52,53.39 L463.79,54.57 L464.06,55.75 L464.34,56.93 L464.61,58.09 L464.88,59.23 L465.16,60.36 L465.43,61.47 L465.70,62.56 L465.97,63.63 L466.25,64.66 L466.52,65.67 L466.79,66.65 L467.06,67.59 L467.34,68.50 L467.61,69.37 L467.88,70.20 L468.15,70.98 L468.43,71.73 L468.70,72.43 L468.97,73.08 L469.25,73.68 L469.52,74.24 L469.79,74.74 L470.06,75.20 L470.34,75.60 L470.61,75.95 L470.88,76.25 L471.15,76.49 L471.43,76.68 L471.70,76.49 L471.97,76.25 L472.24,75.95 L472.52,75.60 L472.79,75.20 L473.06,74.74 L473.34,74.24 L473.61,73.68 L473.88,73.08 L474.15,72.43 L474.43,71.73 L474.70,70.98 L474.97,70.20 L475.24,69.37 L475.52,68.50 L475.79,67.59 L476.06,66.65 L476.33,65.67 L476.61,64.66 L476.88,63.63 L477.15,62.56 L477.43,61.47 L477.70,60.36 L477.97,59.23 L478.24,58.09 L478.52,56.93 L478.79,55.75 L479.06,54.57 L479.33,53.39 L479.61,52.20 L479.88,51.01 L480.15,49.83 L480.42,48.65 L480.70,47.47 L480.97,46.31 L481.24,45.17 L481.52,44.04 L481.79,42.93 L482.06,41.84 L482.33,40.77 L482.61,39.74 L482.88,38.73 L483.15,37.75 L483.42,36.81 L483.70,35.90 L483.97,35.03 L484.24,34.20 L484.51,33.42 L484.79,32.67 L485.06,31.97 L485.33,31.32 L485.61,30.72 L485.88,30.16 L486.15,29.66 L486.42,29.20 L486.70,28.80 L486.97,28.45 L487.24,28.15 L487.51,27.91 L487.79,27.72 L488.06,27.91 L488.33,28.15 L488.60,28.45 L488.88,28.80 L489.15,29.20 L489.42,29.66 L489.70,30.16 L489.97,30.72 L490.24,31.32 L490.51,31.97 L490.79,32.67 L491.06,33.42 L491.33,34.20 L491.60,35.03 L491.88,35.90 L492.15,36.81 L492.42,37.75 L492.69,38.73 L492.97,39.74 L493.24,40.77 L493.51,41.84 L493.79,42.93 L494.06,44.04 L494.33,45.17 L494.60,46.31 L494.88,47.47 L495.15,48.65 L495.42,49.83 L495.69,51.01 L495.97,52.20 L496.24,53.39 L496.51,54.57 L496.78,55.75 L497.06,56.93 L497.33,58.09 L497.60,59.23 L497.88,60.36 L498.15,61.47 L498.42,62.56 L498.69,63.63 L498.97,64.66 L499.24,65.67 L499.51,66.65 L499.78,67.59 L500.06,68.50 L500.33,69.37 L500.60,70.20 L500.87,70.98 L501.15,71.73 L501.42,72.43 L501.69,73.08 L501.97,73.68 L502.24,74.24 L502.51,74.74 L502.78,75.20 L503.06,75.60 L503.33,75.95 L503.60,76.25 L503.87,76.49 L504.15,76.68 L504.42,76.49 L504.69,76.25 L504.96,75.95 L505.24,75.60 L505.51,75.20 L505.78,74.74 L506.06,74.24 L506.33,73.68 L506.60,73.08 L506.87,72.43 L507.15,71.73 L507.42,70.98 L507.69,70.20 L507.96,69.37 L508.24,68.50 L508.51,67.59 L508.78,66.65 L509.05,65.67 L509.33,64.66 L509.60,63.63" fill="none" stroke="#d02a2a" stroke-width="1.5" stroke-linejoin="round" />
<path d="M346.00,63.63 L346.27,64.66 L346.55,65.67 L346.82,66.65 L347.09,67.59 L347.36,68.50 L347.64,69.37 L347.91,70.20 L348.18,70.98 L348.45,71.73 L348.73,72.43 L349.00,73.08 L349.27,73.68 L349.54,74.24 L349.82,74.74 L350.09,75.20 L350.36,75.60 L350.64,75.95 L350.91,76.25 L351.18,76.49 L351.45,76.68 L351.73,76.49 L352.00,76.25 L352.27,75.95 L352.54,75.60 L352.82,75.20 L353.09,74.74 L353.36,74.24 L353.63,73.68 L353.91,73.08 L354.18,72.43 L354.45,71.73 L354.73,70.98 L355.00,70.20 L355.27,69.37 L355.54,68.50 L355.82,67.59 L356.09,66.65 L356.36,65.67 L356.63,64.66 L356.91,63.63 L357.18,62.56 L357.45,61.47 L357.72,60.36 L358.00,59.23 L358.27,58.09 L358.54,56.93 L358.82,55.75 L359.09,54.57 L359.36,53.39 L359.63,52.20 L359.91,51.01 L360.18,49.83 L360.45,48.65 L360.72,47.47 L361.00,46.31 L361.27,45.17 L361.54,44.04 L361.81,42.93 L362.09,41.84 L362.36,40.77 L362.63,39.74 L362.91,38.73 L363.18,37.75 L363.45,36.81 L363.72,35.90 L364.00,35.03 L364.27,34.20 L364.54,33.42 L364.81,32.67 L365.09,31.97 L365.36,31.32 L365.63,30.72 L365.90,30.16 L366.18,29.66 L366.45,29.20 L366.72,28.80 L367.00,28.45 L367.27,28.15 L367.54,27.91 L367.81,27.72 L368.09,27.91 L368.36,28.15 L368.63,28.45 L368.90,28.80 L369.18,29.20 L369.45,29.66 L369.72,30.16 L369.99,30.72 L370.27,31.32 L370.54,31.97 L370.81,32.67 L371.09,33.42 L371.36,34.20 L371.63,35.03 L371.90,35.90 L372.18,36.81 L372.45,37.75 L372.72,38.73 L372.99,39.74 L373.27,40.77 L373.54,41.84 L373.81,42.93 L374.08,44.04 L374.36,45.17 L374.63,46.31 L374.90,47.47 L375.18,48.65 L375.45,49.83 L375.72,51.01 L375.99,52.20 L376.27,53.39 L376.54,54.57 L376.81,55.75 L377.08,56.93 L377.36,58.09 L377.63,59.23 L377.90,60.36 L378.17,61.47 L378.45,62.56 L378.72,63.63 L378.99,64.66 L379.27,65.67 L379.54,66.65 L379.81,67.59 L380.08,68.50 L380.36,69.37 L380.63,70.20 L380.90,70.98 L381.17,71.73 L381.45,72.43 L381.72,73.08 L381.99,73.68 L382.26,74.24 L382.54,74.74 L382.81,75.20 L383.08,75.60 L383.36,75.95 L383.63,76.25 L383.90,76.49 L384.17,76.68 L384.45,76.49 L384.72,76.25 L384.99,75.95 L385.26,75.60 L385.54,75.20 L385.81,74.74 L386.08,74.24 L386.35,73.68 L386.63,73.08 L386.90,72.43 L387.17,71.73 L387.45,70.98 L387.72,70.20 L387.99,69.37 L388.26,68.50 L388.54,67.59 L388.81,66.65 L389.08,65.67 L389.35,64.66 L389.63,63.63 L389.90,62.56 L390.17,61.47 L390.44,60.36 L390.72,59.23 L390.99,58.09 L391.26,56.93 L391.54,55.75 L391.81,54.57 L392.08,53.39 L392.35,52.20 L392.63,51.01 L392.90,49.83 L393.17,48.65 L393.44,47.47 L393.72,46.31 L393.99,45.17 L394.26,44.04 L394.53,42.93 L394.81,41.84 L395.08,40.77 L395.35,39.74 L395.63,38.73 L395.90,37.75 L396.17,36.81 L396.44,35.90 L396.72,35.03 L396.99,34.20 L397.26,33.42 L397.53,32.67 L397.81,31.97 L398.08,31.32 L398.35,30.72 L398.62,30.16 L398.90,29.66 L399.17,29.20 L399.44,28.80 L399.72,28.45 L399.99,28.15 L400.26,27.91 L400.53,27.72 L400.81,27.91 L401.08,28.15 L401.35,28.45 L401.62,28.80 L401.90,29.20 L402.17,29.66 L402.44,30.16 L402.71,30.72 L402.99,31.32 L403.26,31.97 L403.53,32.67 L403.81,33.42 L404.08,34.20 L404.35,35.03 L404.62,35.90 L404.90,36.81 L405.17,37.75 L405.44,38.73 L405.71,39.74 L405.99,40.77 L406.26,41.84 L406.53,42.93 L406.80,44.04 L407.08,45.17 L407.35,46.31 L407.62,47.47 L407.90,48.65 L408.17,49.83 L408.44,51.01 L408.71,52.20 L408.99,53.39 L409.26,54.57 L409.53,55.75 L409.80,56.93 L410.08,58.09 L410.35,59.23 L410.62,60.36 L410.89,61.47 L411.17,62.56 L411.44,63.63 L411.71,64.66 L411.99,65.67 L412.26,66.65 L412.53,67.59 L412.80,68.50 L413.08,69.37 L413.35,70.20 L413.62,70.98 L413.89,71.73 L414.17,72.43 L414.44,73.08 L414.71,73.68 L414.98,74.24 L415.26,74.74 L415.53,75.20 L415.80,75.60 L416.08,75.95 L416.35,76.25 L416.62,76.49 L416.89,76.68 L417.17,76.49 L417.44,76.25 L417.71,75.95 L417.98,75.60 L418.26,75.20 L418.53,74.74 L418.80,74.24 L419.07,73.68 L419.35,73.08 L419.62,72.43 L419.89,71.73 L420.17,70.98 L420.44,70.20 L420.71,69.37 L420.98,68.50 L421.26,67.59 L421.53,66.65 L421.80,65.67 L422.07,64.66 L422.35,63.63 L422.62,62.56 L422.89,61.47 L423.16,60.36 L423.44,59.23 L423.71,58.09 L423.98,56.93 L424.26,55.75 L424.53,54.57 L424.80,53.39 L425.07,52.20 L425.35,51.01 L425.62,49.83 L425.89,48.65 L426.16,47.47 L426.44,46.31 L426.71,45.17 L426.98,44.04 L427.25,42.93 L427.53,41.84 L427.80,40.77 L428.07,39.74 L428.35,38.73 L428.62,37.75 L428.89,36.81 L429.16,35.90 L429.44,35.03 L429.71,34.20 L429.98,33.42 L430.25,32.67 L430.53,31.97 L430.80,31.32 L431.07,30.72 L431.34,30.16 L431.62,29.66 L431.89,29.20 L432.16,28.80 L432.44,28.45 L432.71,28.15 L432.98,27.91 L433.25,27.72 L433.53,27.91 L433.80,28.15 L434.07,28.45 L434.34,28.80 L434.62,29.20 L434.89,29.66 L435.16,30.16 L435.43,30.72 L435.71,31.32 L435.98,31.97 L436.25,32.67 L436.53,33.42 L436.80,34.20 L437.07,35.03 L437.34,35.90 L437.62,36.81 L437.89,37.75 L438.16,38.73 L438.43,39.74 L438.71,40.77 L438.98,41.84 L439.25,42.93 L439.52,44.04 L439.80,45.17 L440.07,46.31 L440.34,47.47 L440.62,48.65 L440.89,49.83 L441.16,51.01 L441.43,52.20 L441.71,53.39 L441.98,54.57 L442.25,55.75 L442.52,56.93 L442.80,58.09 L443.07,59.23 L443.34,60.36 L443.61,61.47 L443.89,62.56 L444.16,63.63 L444.43,64.66 L444.71,65.67 L444.98,66.65 L445.25,67.59 L445.52,68.50 L445.80,69.37 L446.07,70.20 L446.34,70.98 L446.61,71.73 L446.89,72.43 L447.16,73.08 L447.43,73.68 L447.70,74.24 L447.98,74.74 L448.25,75.20 L448.52,75.60 L448.80,75.95 L449.07,76.25 L449.34,76.49 L449.61,76.68 L449.89,76.49 L450.16,76.25 L450.43,75.95 L450.70,75.60 L450.98,75.20 L451.25,74.74 L451.52,74.24 L451.79,73.68 L452.07,73.08 L452.34,72.43 L452.61,71.73 L452.89,70.98 L453.16,70.20 L453.43,69.37 L453.70,68.50 L453.98,67.59 L454.25,66.65 L454.52,65.67 L454.79,64.66 L455.07,63.63 L455.34,62.56 L455.61,61.47 L455.88,60.36 L456.16,59.23 L456.43,58.09 L456.70,56.93 L456.98,55.75 L457.25,54.57 L457.52,53.39 L457.79,52.20 L458.07,51.01 L458.34,49.83 L458.61,48.65 L458.88,47.47 L459.16,46.31 L459.43,45.17 L459.70,44.04 L459.97,42.93 L460.25,41.84 L460.52,40.77 L460.79,39.74 L461.07,38.73 L461.34,37.75 L461.61,36.81 L461.88,35.90 L462.16,35.03 L462.43,34.20 L462.70,33.42 L462.97,32.67 L463.25,31.97 L463.52,31.32 L463.79,30.72 L464.06,30.16 L464.34,29.66 L464.61,29.20 L464.88,28.80 L465.16,28.45 L465.43,28.15 L465.70,27.91 L465.97,27.72 L466.25,27.91 L466.52,28.15 L466.79,28.45 L467.06,28.80 L467.34,29.20 L467.61,29.66 L467.88,30.16 L468.15,30.72 L468.43,31.32 L468.70,31.97 L468.97,32.67 L469.25,33.42 L469.52,34.20 L469.79,35.03 L470.06,35.90 L470.34,36.81 L470.61,37.75 L470.88,38.73 L471.15,39.74 L471.43,40.77 L471.70,41.84 L471.97,42.93 L472.24,44.04 L472.52,45.17 L472.79,46.31 L473.06,47.47 L473.34,48.65 L473.61,49.83 L473.88,51.01 L474.15,52.20 L474.43,53.39 L474.70,54.57 L474.97,55.75 L475.24,56.93 L475.52,58.09 L475.79,59.23 L476.06,60.36 L476.33,61.47 L476.61,62.56 L476.88,63.63 L477.15,64.66 L477.43,65.67 L477.70,66.65 L477.97,67.59 L478.24,68.50 L478.52,69.37 L478.79,70.20 L479.06,70.98 L479.33,71.73 L479.61,72.43 L479.88,73.08 L480.15,73.68 L480.42,74.24 L480.70,74.74 L480.97,75.20 L481.24,75.60 L481.52,75.95 L481.79,76.25 L482.06,76.49 L482.33,76.68 L482.61,76.49 L482.88,76.25 L483.15,75.95 L483.42,75.60 L483.70,75.20 L483.97,74.74 L484.24,74.24 L484.51,73.68 L484.79,73.08 L485.06,72.43 L485.33,71.73 L485.61,70.98 L485.88,70.20 L486.15,69.37 L486.42,68.50 L486.70,67.59 L486.97,66.65 L487.24,65.67 L487.51,64.66 L487.79,63.63 L488.06,62.56 L488.33,61.47 L488.60,60.36 L488.88,59.23 L489.15,58.09 L489.42,56.93 L489.70,55.75 L489.97,54.57 L490.24,53.39 L490.51,52.20 L490.79,51.01 L491.06,49.83 L491.33,48.65 L491.60,47.47 L491.88,46.31 L492.15,45.17 L492.42,44.04 L492.69,42.93 L492.97,41.84 L493.24,40.77 L493.51,39.74 L493.79,38.73 L494.06,37.75 L494.33,36.81 L494.60,35.90 L494.88,35.03 L495.15,34.20 L495.42,33.42 L495.69,32.67 L495.97,31.97 L496.24,31.32 L496.51,30.72 L496.78,30.16 L497.06,29.66 L497.33,29.20 L497.60,28.80 L497.88,28.45 L498.15,28.15 L498.42,27.91 L498.69,27.72 L498.97,27.91 L499.24,28.15 L499.51,28.45 L499.78,28.80 L500.06,29.20 L500.33,29.66 L500.60,30.16 L500.87,30.72 L501.15,31.32 L501.42,31.97 L501.69,32.67 L501.97,33.42 L502.24,34.20 L502.51,35.03 L502.78,35.90 L503.06,36.81 L503.33,37.75 L503.60,38.73 L503.87,39.74 L504.15,40.77 L504.42,41.84 L504.69,42.93 L504.96,44.04 L505.24,45.17 L505.51,46.31 L505.78,47.47 L506.06,48.65 L506.33,49.83 L506.60,51.01 L506.87,52.20 L507.15,53.39 L507.42,54.57 L507.69,55.75 L507.96,56.93 L508.24,58.09 L508.51,59.23 L508.78,60.36 L509.05,61.47 L509.33,62.56 L509.60,63.63" fill="none" stroke="#2c3e98" stroke-width="1.5" stroke-linejoin="round" />
</g>
<rect x="346" y="17.2" width="163.60000000000002" height="67.89999999999999" fill="none" stroke="#5a5a5a" stroke-width="1"/>
<text x="0" y="0" transform="translate(379.70,25.50) scale(1.0,1.1)" font-size="8" text-anchor="start" fill="#111" style="font-weight:bold;font-style:italic"  stroke="#111" stroke-width="0.25">Three Phase AC Load Voltage</text>
<line x1="425.15" y1="126.20" x2="425.15" y2="187.70" stroke="#c9c9c9" stroke-width="0.9" />
<line x1="338.40" y1="158.50" x2="511.90" y2="158.50" stroke="#c9c9c9" stroke-width="0.9" />
<line x1="338.40" y1="129.40" x2="511.90" y2="129.40" stroke="#c9c9c9" stroke-width="0.9" />
<clipPath id="cE"><rect x="338.4" y="126.2" width="173.5" height="61.499999999999986"/></clipPath>
<text x="0" y="0" transform="translate(339.10,198.30) scale(1.0,1.1)" font-size="8" text-anchor="middle" fill="#111" style="font-weight:bold;font-style:italic"  stroke="#111" stroke-width="0.25">0.95</text>
<text x="0" y="0" transform="translate(425.85,198.30) scale(1.0,1.1)" font-size="8" text-anchor="middle" fill="#111" style="font-weight:bold;font-style:italic"  stroke="#111" stroke-width="0.25">1</text>
<text x="0" y="0" transform="translate(512.60,198.30) scale(1.0,1.1)" font-size="8" text-anchor="middle" fill="#111" style="font-weight:bold;font-style:italic"  stroke="#111" stroke-width="0.25">1.05</text>
<text x="0" y="0" transform="translate(334.50,190.20) scale(1.0,1.1)" font-size="8" text-anchor="end" fill="#111" style="font-weight:bold;font-style:italic"  stroke="#111" stroke-width="0.25">&#8211;5</text>
<text x="0" y="0" transform="translate(334.50,161.10) scale(1.0,1.1)" font-size="8" text-anchor="end" fill="#111" style="font-weight:bold;font-style:italic"  stroke="#111" stroke-width="0.25">0</text>
<text x="0" y="0" transform="translate(334.50,132.00) scale(1.0,1.1)" font-size="8" text-anchor="end" fill="#111" style="font-weight:bold;font-style:italic"  stroke="#111" stroke-width="0.25">5</text>
<text x="0" y="0" transform="translate(427.15,205.50) scale(1.0,1.1)" font-size="8" text-anchor="middle" fill="#111" style="font-weight:bold;font-style:italic"  stroke="#111" stroke-width="0.25">Time [s]</text>
<text x="0" y="0" font-size="8" text-anchor="middle" fill="#111" stroke="#111" stroke-width="0.25" style="font-weight:bold;font-style:italic" transform="translate(320.00,158.00) rotate(-90) scale(1,1.1)">Iabc [A]</text>
<g clip-path="url(#cE)">
<path d="M338.40,136.38 L338.69,136.19 L338.98,136.30 L339.27,136.51 L339.56,136.77 L339.85,137.08 L340.13,137.44 L340.42,137.84 L340.71,138.30 L341.00,138.79 L341.29,139.34 L341.58,139.92 L341.87,140.55 L342.16,141.22 L342.45,141.93 L342.74,142.68 L343.03,143.47 L343.32,144.29 L343.60,145.14 L343.89,146.03 L344.18,146.94 L344.47,147.88 L344.76,148.85 L345.05,149.84 L345.34,150.85 L345.63,151.88 L345.92,152.92 L346.21,153.98 L346.50,155.04 L346.79,156.12 L347.07,157.20 L347.36,158.28 L347.65,159.37 L347.94,160.45 L348.23,161.53 L348.52,162.60 L348.81,163.66 L349.10,164.71 L349.39,165.74 L349.68,166.76 L349.97,167.76 L350.26,168.73 L350.54,169.68 L350.83,170.61 L351.12,171.51 L351.41,172.37 L351.70,173.21 L351.99,174.01 L352.28,174.77 L352.57,175.50 L352.86,176.18 L353.15,176.83 L353.44,177.43 L353.73,177.99 L354.01,178.51 L354.30,178.98 L354.59,179.40 L354.88,179.78 L355.17,180.11 L355.46,180.39 L355.75,180.62 L356.04,180.81 L356.33,180.70 L356.62,180.49 L356.91,180.23 L357.20,179.92 L357.48,179.56 L357.77,179.16 L358.06,178.70 L358.35,178.21 L358.64,177.66 L358.93,177.08 L359.22,176.45 L359.51,175.78 L359.80,175.07 L360.09,174.32 L360.38,173.53 L360.67,172.71 L360.95,171.86 L361.24,170.97 L361.53,170.06 L361.82,169.12 L362.11,168.15 L362.40,167.16 L362.69,166.15 L362.98,165.12 L363.27,164.08 L363.56,163.02 L363.85,161.96 L364.14,160.88 L364.42,159.80 L364.71,158.72 L365.00,157.63 L365.29,156.55 L365.58,155.47 L365.87,154.40 L366.16,153.34 L366.45,152.29 L366.74,151.26 L367.03,150.24 L367.32,149.24 L367.61,148.27 L367.89,147.32 L368.18,146.39 L368.47,145.49 L368.76,144.63 L369.05,143.79 L369.34,142.99 L369.63,142.23 L369.92,141.50 L370.21,140.82 L370.50,140.17 L370.79,139.57 L371.08,139.01 L371.37,138.49 L371.65,138.02 L371.94,137.60 L372.23,137.22 L372.52,136.89 L372.81,136.61 L373.10,136.38 L373.39,136.19 L373.68,136.30 L373.97,136.51 L374.26,136.77 L374.55,137.08 L374.83,137.44 L375.12,137.84 L375.41,138.30 L375.70,138.79 L375.99,139.34 L376.28,139.92 L376.57,140.55 L376.86,141.22 L377.15,141.93 L377.44,142.68 L377.73,143.47 L378.02,144.29 L378.30,145.14 L378.59,146.03 L378.88,146.94 L379.17,147.88 L379.46,148.85 L379.75,149.84 L380.04,150.85 L380.33,151.88 L380.62,152.92 L380.91,153.98 L381.20,155.04 L381.49,156.12 L381.77,157.20 L382.06,158.28 L382.35,159.37 L382.64,160.45 L382.93,161.53 L383.22,162.60 L383.51,163.66 L383.80,164.71 L384.09,165.74 L384.38,166.76 L384.67,167.76 L384.96,168.73 L385.25,169.68 L385.53,170.61 L385.82,171.51 L386.11,172.37 L386.40,173.21 L386.69,174.01 L386.98,174.77 L387.27,175.50 L387.56,176.18 L387.85,176.83 L388.14,177.43 L388.43,177.99 L388.71,178.51 L389.00,178.98 L389.29,179.40 L389.58,179.78 L389.87,180.11 L390.16,180.39 L390.45,180.62 L390.74,180.81 L391.03,180.70 L391.32,180.49 L391.61,180.23 L391.90,179.92 L392.18,179.56 L392.47,179.16 L392.76,178.70 L393.05,178.21 L393.34,177.66 L393.63,177.08 L393.92,176.45 L394.21,175.78 L394.50,175.07 L394.79,174.32 L395.08,173.53 L395.37,172.71 L395.65,171.86 L395.94,170.97 L396.23,170.06 L396.52,169.12 L396.81,168.15 L397.10,167.16 L397.39,166.15 L397.68,165.12 L397.97,164.08 L398.26,163.02 L398.55,161.96 L398.84,160.88 L399.12,159.80 L399.41,158.72 L399.70,157.63 L399.99,156.55 L400.28,155.47 L400.57,154.40 L400.86,153.34 L401.15,152.29 L401.44,151.26 L401.73,150.24 L402.02,149.24 L402.31,148.27 L402.59,147.32 L402.88,146.39 L403.17,145.49 L403.46,144.63 L403.75,143.79 L404.04,142.99 L404.33,142.23 L404.62,141.50 L404.91,140.82 L405.20,140.17 L405.49,139.57 L405.78,139.01 L406.06,138.49 L406.35,138.02 L406.64,137.60 L406.93,137.22 L407.22,136.89 L407.51,136.61 L407.80,136.38 L408.09,136.19 L408.38,136.30 L408.67,136.51 L408.96,136.77 L409.25,137.08 L409.53,137.44 L409.82,137.84 L410.11,138.30 L410.40,138.79 L410.69,139.34 L410.98,139.92 L411.27,140.55 L411.56,141.22 L411.85,141.93 L412.14,142.68 L412.43,143.47 L412.72,144.29 L413.00,145.14 L413.29,146.03 L413.58,146.94 L413.87,147.88 L414.16,148.85 L414.45,149.84 L414.74,150.85 L415.03,151.88 L415.32,152.92 L415.61,153.98 L415.90,155.04 L416.19,156.12 L416.47,157.20 L416.76,158.28 L417.05,159.37 L417.34,160.45 L417.63,161.53 L417.92,162.60 L418.21,163.66 L418.50,164.71 L418.79,165.74 L419.08,166.76 L419.37,167.76 L419.66,168.73 L419.94,169.68 L420.23,170.61 L420.52,171.51 L420.81,172.37 L421.10,173.21 L421.39,174.01 L421.68,174.77 L421.97,175.50 L422.26,176.18 L422.55,176.83 L422.84,177.43 L423.13,177.99 L423.41,178.51 L423.70,178.98 L423.99,179.40 L424.28,179.78 L424.57,180.11 L424.86,180.39 L425.15,180.62 L425.44,180.81 L425.73,180.70 L426.02,180.49 L426.31,180.23 L426.60,179.92 L426.88,179.56 L427.17,179.16 L427.46,178.70 L427.75,178.21 L428.04,177.66 L428.33,177.08 L428.62,176.45 L428.91,175.78 L429.20,175.07 L429.49,174.32 L429.78,173.53 L430.07,172.71 L430.36,171.86 L430.64,170.97 L430.93,170.06 L431.22,169.12 L431.51,168.15 L431.80,167.16 L432.09,166.15 L432.38,165.12 L432.67,164.08 L432.96,163.02 L433.25,161.96 L433.54,160.88 L433.82,159.80 L434.11,158.72 L434.40,157.63 L434.69,156.55 L434.98,155.47 L435.27,154.40 L435.56,153.34 L435.85,152.29 L436.14,151.26 L436.43,150.24 L436.72,149.24 L437.01,148.27 L437.30,147.32 L437.58,146.39 L437.87,145.49 L438.16,144.63 L438.45,143.79 L438.74,142.99 L439.03,142.23 L439.32,141.50 L439.61,140.82 L439.90,140.17 L440.19,139.57 L440.48,139.01 L440.77,138.49 L441.05,138.02 L441.34,137.60 L441.63,137.22 L441.92,136.89 L442.21,136.61 L442.50,136.38 L442.79,136.19 L443.08,136.30 L443.37,136.51 L443.66,136.77 L443.95,137.08 L444.23,137.44 L444.52,137.84 L444.81,138.30 L445.10,138.79 L445.39,139.34 L445.68,139.92 L445.97,140.55 L446.26,141.22 L446.55,141.93 L446.84,142.68 L447.13,143.47 L447.42,144.29 L447.70,145.14 L447.99,146.03 L448.28,146.94 L448.57,147.88 L448.86,148.85 L449.15,149.84 L449.44,150.85 L449.73,151.88 L450.02,152.92 L450.31,153.98 L450.60,155.04 L450.89,156.12 L451.18,157.20 L451.46,158.28 L451.75,159.37 L452.04,160.45 L452.33,161.53 L452.62,162.60 L452.91,163.66 L453.20,164.71 L453.49,165.74 L453.78,166.76 L454.07,167.76 L454.36,168.73 L454.64,169.68 L454.93,170.61 L455.22,171.51 L455.51,172.37 L455.80,173.21 L456.09,174.01 L456.38,174.77 L456.67,175.50 L456.96,176.18 L457.25,176.83 L457.54,177.43 L457.83,177.99 L458.12,178.51 L458.40,178.98 L458.69,179.40 L458.98,179.78 L459.27,180.11 L459.56,180.39 L459.85,180.62 L460.14,180.81 L460.43,180.70 L460.72,180.49 L461.01,180.23 L461.30,179.92 L461.58,179.56 L461.87,179.16 L462.16,178.70 L462.45,178.21 L462.74,177.66 L463.03,177.08 L463.32,176.45 L463.61,175.78 L463.90,175.07 L464.19,174.32 L464.48,173.53 L464.77,172.71 L465.06,171.86 L465.34,170.97 L465.63,170.06 L465.92,169.12 L466.21,168.15 L466.50,167.16 L466.79,166.15 L467.08,165.12 L467.37,164.08 L467.66,163.02 L467.95,161.96 L468.24,160.88 L468.52,159.80 L468.81,158.72 L469.10,157.63 L469.39,156.55 L469.68,155.47 L469.97,154.40 L470.26,153.34 L470.55,152.29 L470.84,151.26 L471.13,150.24 L471.42,149.24 L471.71,148.27 L472.00,147.32 L472.28,146.39 L472.57,145.49 L472.86,144.63 L473.15,143.79 L473.44,142.99 L473.73,142.23 L474.02,141.50 L474.31,140.82 L474.60,140.17 L474.89,139.57 L475.18,139.01 L475.46,138.49 L475.75,138.02 L476.04,137.60 L476.33,137.22 L476.62,136.89 L476.91,136.61 L477.20,136.38 L477.49,136.19 L477.78,136.30 L478.07,136.51 L478.36,136.77 L478.65,137.08 L478.94,137.44 L479.22,137.84 L479.51,138.30 L479.80,138.79 L480.09,139.34 L480.38,139.92 L480.67,140.55 L480.96,141.22 L481.25,141.93 L481.54,142.68 L481.83,143.47 L482.12,144.29 L482.40,145.14 L482.69,146.03 L482.98,146.94 L483.27,147.88 L483.56,148.85 L483.85,149.84 L484.14,150.85 L484.43,151.88 L484.72,152.92 L485.01,153.98 L485.30,155.04 L485.59,156.12 L485.88,157.20 L486.16,158.28 L486.45,159.37 L486.74,160.45 L487.03,161.53 L487.32,162.60 L487.61,163.66 L487.90,164.71 L488.19,165.74 L488.48,166.76 L488.77,167.76 L489.06,168.73 L489.34,169.68 L489.63,170.61 L489.92,171.51 L490.21,172.37 L490.50,173.21 L490.79,174.01 L491.08,174.77 L491.37,175.50 L491.66,176.18 L491.95,176.83 L492.24,177.43 L492.53,177.99 L492.82,178.51 L493.10,178.98 L493.39,179.40 L493.68,179.78 L493.97,180.11 L494.26,180.39 L494.55,180.62 L494.84,180.81 L495.13,180.70 L495.42,180.49 L495.71,180.23 L496.00,179.92 L496.28,179.56 L496.57,179.16 L496.86,178.70 L497.15,178.21 L497.44,177.66 L497.73,177.08 L498.02,176.45 L498.31,175.78 L498.60,175.07 L498.89,174.32 L499.18,173.53 L499.47,172.71 L499.76,171.86 L500.04,170.97 L500.33,170.06 L500.62,169.12 L500.91,168.15 L501.20,167.16 L501.49,166.15 L501.78,165.12 L502.07,164.08 L502.36,163.02 L502.65,161.96 L502.94,160.88 L503.22,159.80 L503.51,158.72 L503.80,157.63 L504.09,156.55 L504.38,155.47 L504.67,154.40 L504.96,153.34 L505.25,152.29 L505.54,151.26 L505.83,150.24 L506.12,149.24 L506.41,148.27 L506.70,147.32 L506.98,146.39 L507.27,145.49 L507.56,144.63 L507.85,143.79 L508.14,142.99 L508.43,142.23 L508.72,141.50 L509.01,140.82 L509.30,140.17 L509.59,139.57 L509.88,139.01 L510.16,138.49 L510.45,138.02 L510.74,137.60 L511.03,137.22 L511.32,136.89 L511.61,136.61 L511.90,136.38" fill="none" stroke="#1d8036" stroke-width="1.5" stroke-linejoin="round" />
<path d="M338.40,170.06 L338.69,169.12 L338.98,168.15 L339.27,167.16 L339.56,166.15 L339.85,165.12 L340.13,164.08 L340.42,163.02 L340.71,161.96 L341.00,160.88 L341.29,159.80 L341.58,158.72 L341.87,157.63 L342.16,156.55 L342.45,155.47 L342.74,154.40 L343.03,153.34 L343.32,152.29 L343.60,151.26 L343.89,150.24 L344.18,149.24 L344.47,148.27 L344.76,147.32 L345.05,146.39 L345.34,145.49 L345.63,144.63 L345.92,143.79 L346.21,142.99 L346.50,142.23 L346.79,141.50 L347.07,140.82 L347.36,140.17 L347.65,139.57 L347.94,139.01 L348.23,138.49 L348.52,138.02 L348.81,137.60 L349.10,137.22 L349.39,136.89 L349.68,136.61 L349.97,136.38 L350.26,136.19 L350.54,136.30 L350.83,136.51 L351.12,136.77 L351.41,137.08 L351.70,137.44 L351.99,137.84 L352.28,138.30 L352.57,138.79 L352.86,139.34 L353.15,139.92 L353.44,140.55 L353.73,141.22 L354.01,141.93 L354.30,142.68 L354.59,143.47 L354.88,144.29 L355.17,145.14 L355.46,146.03 L355.75,146.94 L356.04,147.88 L356.33,148.85 L356.62,149.84 L356.91,150.85 L357.20,151.88 L357.48,152.92 L357.77,153.98 L358.06,155.04 L358.35,156.12 L358.64,157.20 L358.93,158.28 L359.22,159.37 L359.51,160.45 L359.80,161.53 L360.09,162.60 L360.38,163.66 L360.67,164.71 L360.95,165.74 L361.24,166.76 L361.53,167.76 L361.82,168.73 L362.11,169.68 L362.40,170.61 L362.69,171.51 L362.98,172.37 L363.27,173.21 L363.56,174.01 L363.85,174.77 L364.14,175.50 L364.42,176.18 L364.71,176.83 L365.00,177.43 L365.29,177.99 L365.58,178.51 L365.87,178.98 L366.16,179.40 L366.45,179.78 L366.74,180.11 L367.03,180.39 L367.32,180.62 L367.61,180.81 L367.89,180.70 L368.18,180.49 L368.47,180.23 L368.76,179.92 L369.05,179.56 L369.34,179.16 L369.63,178.70 L369.92,178.21 L370.21,177.66 L370.50,177.08 L370.79,176.45 L371.08,175.78 L371.37,175.07 L371.65,174.32 L371.94,173.53 L372.23,172.71 L372.52,171.86 L372.81,170.97 L373.10,170.06 L373.39,169.12 L373.68,168.15 L373.97,167.16 L374.26,166.15 L374.55,165.12 L374.83,164.08 L375.12,163.02 L375.41,161.96 L375.70,160.88 L375.99,159.80 L376.28,158.72 L376.57,157.63 L376.86,156.55 L377.15,155.47 L377.44,154.40 L377.73,153.34 L378.02,152.29 L378.30,151.26 L378.59,150.24 L378.88,149.24 L379.17,148.27 L379.46,147.32 L379.75,146.39 L380.04,145.49 L380.33,144.63 L380.62,143.79 L380.91,142.99 L381.20,142.23 L381.49,141.50 L381.77,140.82 L382.06,140.17 L382.35,139.57 L382.64,139.01 L382.93,138.49 L383.22,138.02 L383.51,137.60 L383.80,137.22 L384.09,136.89 L384.38,136.61 L384.67,136.38 L384.96,136.19 L385.25,136.30 L385.53,136.51 L385.82,136.77 L386.11,137.08 L386.40,137.44 L386.69,137.84 L386.98,138.30 L387.27,138.79 L387.56,139.34 L387.85,139.92 L388.14,140.55 L388.43,141.22 L388.71,141.93 L389.00,142.68 L389.29,143.47 L389.58,144.29 L389.87,145.14 L390.16,146.03 L390.45,146.94 L390.74,147.88 L391.03,148.85 L391.32,149.84 L391.61,150.85 L391.90,151.88 L392.18,152.92 L392.47,153.98 L392.76,155.04 L393.05,156.12 L393.34,157.20 L393.63,158.28 L393.92,159.37 L394.21,160.45 L394.50,161.53 L394.79,162.60 L395.08,163.66 L395.37,164.71 L395.65,165.74 L395.94,166.76 L396.23,167.76 L396.52,168.73 L396.81,169.68 L397.10,170.61 L397.39,171.51 L397.68,172.37 L397.97,173.21 L398.26,174.01 L398.55,174.77 L398.84,175.50 L399.12,176.18 L399.41,176.83 L399.70,177.43 L399.99,177.99 L400.28,178.51 L400.57,178.98 L400.86,179.40 L401.15,179.78 L401.44,180.11 L401.73,180.39 L402.02,180.62 L402.31,180.81 L402.59,180.70 L402.88,180.49 L403.17,180.23 L403.46,179.92 L403.75,179.56 L404.04,179.16 L404.33,178.70 L404.62,178.21 L404.91,177.66 L405.20,177.08 L405.49,176.45 L405.78,175.78 L406.06,175.07 L406.35,174.32 L406.64,173.53 L406.93,172.71 L407.22,171.86 L407.51,170.97 L407.80,170.06 L408.09,169.12 L408.38,168.15 L408.67,167.16 L408.96,166.15 L409.25,165.12 L409.53,164.08 L409.82,163.02 L410.11,161.96 L410.40,160.88 L410.69,159.80 L410.98,158.72 L411.27,157.63 L411.56,156.55 L411.85,155.47 L412.14,154.40 L412.43,153.34 L412.72,152.29 L413.00,151.26 L413.29,150.24 L413.58,149.24 L413.87,148.27 L414.16,147.32 L414.45,146.39 L414.74,145.49 L415.03,144.63 L415.32,143.79 L415.61,142.99 L415.90,142.23 L416.19,141.50 L416.47,140.82 L416.76,140.17 L417.05,139.57 L417.34,139.01 L417.63,138.49 L417.92,138.02 L418.21,137.60 L418.50,137.22 L418.79,136.89 L419.08,136.61 L419.37,136.38 L419.66,136.19 L419.94,136.30 L420.23,136.51 L420.52,136.77 L420.81,137.08 L421.10,137.44 L421.39,137.84 L421.68,138.30 L421.97,138.79 L422.26,139.34 L422.55,139.92 L422.84,140.55 L423.13,141.22 L423.41,141.93 L423.70,142.68 L423.99,143.47 L424.28,144.29 L424.57,145.14 L424.86,146.03 L425.15,146.94 L425.44,147.88 L425.73,148.85 L426.02,149.84 L426.31,150.85 L426.60,151.88 L426.88,152.92 L427.17,153.98 L427.46,155.04 L427.75,156.12 L428.04,157.20 L428.33,158.28 L428.62,159.37 L428.91,160.45 L429.20,161.53 L429.49,162.60 L429.78,163.66 L430.07,164.71 L430.36,165.74 L430.64,166.76 L430.93,167.76 L431.22,168.73 L431.51,169.68 L431.80,170.61 L432.09,171.51 L432.38,172.37 L432.67,173.21 L432.96,174.01 L433.25,174.77 L433.54,175.50 L433.82,176.18 L434.11,176.83 L434.40,177.43 L434.69,177.99 L434.98,178.51 L435.27,178.98 L435.56,179.40 L435.85,179.78 L436.14,180.11 L436.43,180.39 L436.72,180.62 L437.01,180.81 L437.30,180.70 L437.58,180.49 L437.87,180.23 L438.16,179.92 L438.45,179.56 L438.74,179.16 L439.03,178.70 L439.32,178.21 L439.61,177.66 L439.90,177.08 L440.19,176.45 L440.48,175.78 L440.77,175.07 L441.05,174.32 L441.34,173.53 L441.63,172.71 L441.92,171.86 L442.21,170.97 L442.50,170.06 L442.79,169.12 L443.08,168.15 L443.37,167.16 L443.66,166.15 L443.95,165.12 L444.23,164.08 L444.52,163.02 L444.81,161.96 L445.10,160.88 L445.39,159.80 L445.68,158.72 L445.97,157.63 L446.26,156.55 L446.55,155.47 L446.84,154.40 L447.13,153.34 L447.42,152.29 L447.70,151.26 L447.99,150.24 L448.28,149.24 L448.57,148.27 L448.86,147.32 L449.15,146.39 L449.44,145.49 L449.73,144.63 L450.02,143.79 L450.31,142.99 L450.60,142.23 L450.89,141.50 L451.18,140.82 L451.46,140.17 L451.75,139.57 L452.04,139.01 L452.33,138.49 L452.62,138.02 L452.91,137.60 L453.20,137.22 L453.49,136.89 L453.78,136.61 L454.07,136.38 L454.36,136.19 L454.64,136.30 L454.93,136.51 L455.22,136.77 L455.51,137.08 L455.80,137.44 L456.09,137.84 L456.38,138.30 L456.67,138.79 L456.96,139.34 L457.25,139.92 L457.54,140.55 L457.83,141.22 L458.12,141.93 L458.40,142.68 L458.69,143.47 L458.98,144.29 L459.27,145.14 L459.56,146.03 L459.85,146.94 L460.14,147.88 L460.43,148.85 L460.72,149.84 L461.01,150.85 L461.30,151.88 L461.58,152.92 L461.87,153.98 L462.16,155.04 L462.45,156.12 L462.74,157.20 L463.03,158.28 L463.32,159.37 L463.61,160.45 L463.90,161.53 L464.19,162.60 L464.48,163.66 L464.77,164.71 L465.06,165.74 L465.34,166.76 L465.63,167.76 L465.92,168.73 L466.21,169.68 L466.50,170.61 L466.79,171.51 L467.08,172.37 L467.37,173.21 L467.66,174.01 L467.95,174.77 L468.24,175.50 L468.52,176.18 L468.81,176.83 L469.10,177.43 L469.39,177.99 L469.68,178.51 L469.97,178.98 L470.26,179.40 L470.55,179.78 L470.84,180.11 L471.13,180.39 L471.42,180.62 L471.71,180.81 L472.00,180.70 L472.28,180.49 L472.57,180.23 L472.86,179.92 L473.15,179.56 L473.44,179.16 L473.73,178.70 L474.02,178.21 L474.31,177.66 L474.60,177.08 L474.89,176.45 L475.18,175.78 L475.46,175.07 L475.75,174.32 L476.04,173.53 L476.33,172.71 L476.62,171.86 L476.91,170.97 L477.20,170.06 L477.49,169.12 L477.78,168.15 L478.07,167.16 L478.36,166.15 L478.65,165.12 L478.94,164.08 L479.22,163.02 L479.51,161.96 L479.80,160.88 L480.09,159.80 L480.38,158.72 L480.67,157.63 L480.96,156.55 L481.25,155.47 L481.54,154.40 L481.83,153.34 L482.12,152.29 L482.40,151.26 L482.69,150.24 L482.98,149.24 L483.27,148.27 L483.56,147.32 L483.85,146.39 L484.14,145.49 L484.43,144.63 L484.72,143.79 L485.01,142.99 L485.30,142.23 L485.59,141.50 L485.88,140.82 L486.16,140.17 L486.45,139.57 L486.74,139.01 L487.03,138.49 L487.32,138.02 L487.61,137.60 L487.90,137.22 L488.19,136.89 L488.48,136.61 L488.77,136.38 L489.06,136.19 L489.34,136.30 L489.63,136.51 L489.92,136.77 L490.21,137.08 L490.50,137.44 L490.79,137.84 L491.08,138.30 L491.37,138.79 L491.66,139.34 L491.95,139.92 L492.24,140.55 L492.53,141.22 L492.82,141.93 L493.10,142.68 L493.39,143.47 L493.68,144.29 L493.97,145.14 L494.26,146.03 L494.55,146.94 L494.84,147.88 L495.13,148.85 L495.42,149.84 L495.71,150.85 L496.00,151.88 L496.28,152.92 L496.57,153.98 L496.86,155.04 L497.15,156.12 L497.44,157.20 L497.73,158.28 L498.02,159.37 L498.31,160.45 L498.60,161.53 L498.89,162.60 L499.18,163.66 L499.47,164.71 L499.76,165.74 L500.04,166.76 L500.33,167.76 L500.62,168.73 L500.91,169.68 L501.20,170.61 L501.49,171.51 L501.78,172.37 L502.07,173.21 L502.36,174.01 L502.65,174.77 L502.94,175.50 L503.22,176.18 L503.51,176.83 L503.80,177.43 L504.09,177.99 L504.38,178.51 L504.67,178.98 L504.96,179.40 L505.25,179.78 L505.54,180.11 L505.83,180.39 L506.12,180.62 L506.41,180.81 L506.70,180.70 L506.98,180.49 L507.27,180.23 L507.56,179.92 L507.85,179.56 L508.14,179.16 L508.43,178.70 L508.72,178.21 L509.01,177.66 L509.30,177.08 L509.59,176.45 L509.88,175.78 L510.16,175.07 L510.45,174.32 L510.74,173.53 L511.03,172.71 L511.32,171.86 L511.61,170.97 L511.90,170.06" fill="none" stroke="#d02a2a" stroke-width="1.5" stroke-linejoin="round" />
<path d="M338.40,167.76 L338.69,168.73 L338.98,169.68 L339.27,170.61 L339.56,171.51 L339.85,172.37 L340.13,173.21 L340.42,174.01 L340.71,174.77 L341.00,175.50 L341.29,176.18 L341.58,176.83 L341.87,177.43 L342.16,177.99 L342.45,178.51 L342.74,178.98 L343.03,179.40 L343.32,179.78 L343.60,180.11 L343.89,180.39 L344.18,180.62 L344.47,180.81 L344.76,180.70 L345.05,180.49 L345.34,180.23 L345.63,179.92 L345.92,179.56 L346.21,179.16 L346.50,178.70 L346.79,178.21 L347.07,177.66 L347.36,177.08 L347.65,176.45 L347.94,175.78 L348.23,175.07 L348.52,174.32 L348.81,173.53 L349.10,172.71 L349.39,171.86 L349.68,170.97 L349.97,170.06 L350.26,169.12 L350.54,168.15 L350.83,167.16 L351.12,166.15 L351.41,165.12 L351.70,164.08 L351.99,163.02 L352.28,161.96 L352.57,160.88 L352.86,159.80 L353.15,158.72 L353.44,157.63 L353.73,156.55 L354.01,155.47 L354.30,154.40 L354.59,153.34 L354.88,152.29 L355.17,151.26 L355.46,150.24 L355.75,149.24 L356.04,148.27 L356.33,147.32 L356.62,146.39 L356.91,145.49 L357.20,144.63 L357.48,143.79 L357.77,142.99 L358.06,142.23 L358.35,141.50 L358.64,140.82 L358.93,140.17 L359.22,139.57 L359.51,139.01 L359.80,138.49 L360.09,138.02 L360.38,137.60 L360.67,137.22 L360.95,136.89 L361.24,136.61 L361.53,136.38 L361.82,136.19 L362.11,136.30 L362.40,136.51 L362.69,136.77 L362.98,137.08 L363.27,137.44 L363.56,137.84 L363.85,138.30 L364.14,138.79 L364.42,139.34 L364.71,139.92 L365.00,140.55 L365.29,141.22 L365.58,141.93 L365.87,142.68 L366.16,143.47 L366.45,144.29 L366.74,145.14 L367.03,146.03 L367.32,146.94 L367.61,147.88 L367.89,148.85 L368.18,149.84 L368.47,150.85 L368.76,151.88 L369.05,152.92 L369.34,153.98 L369.63,155.04 L369.92,156.12 L370.21,157.20 L370.50,158.28 L370.79,159.37 L371.08,160.45 L371.37,161.53 L371.65,162.60 L371.94,163.66 L372.23,164.71 L372.52,165.74 L372.81,166.76 L373.10,167.76 L373.39,168.73 L373.68,169.68 L373.97,170.61 L374.26,171.51 L374.55,172.37 L374.83,173.21 L375.12,174.01 L375.41,174.77 L375.70,175.50 L375.99,176.18 L376.28,176.83 L376.57,177.43 L376.86,177.99 L377.15,178.51 L377.44,178.98 L377.73,179.40 L378.02,179.78 L378.30,180.11 L378.59,180.39 L378.88,180.62 L379.17,180.81 L379.46,180.70 L379.75,180.49 L380.04,180.23 L380.33,179.92 L380.62,179.56 L380.91,179.16 L381.20,178.70 L381.49,178.21 L381.77,177.66 L382.06,177.08 L382.35,176.45 L382.64,175.78 L382.93,175.07 L383.22,174.32 L383.51,173.53 L383.80,172.71 L384.09,171.86 L384.38,170.97 L384.67,170.06 L384.96,169.12 L385.25,168.15 L385.53,167.16 L385.82,166.15 L386.11,165.12 L386.40,164.08 L386.69,163.02 L386.98,161.96 L387.27,160.88 L387.56,159.80 L387.85,158.72 L388.14,157.63 L388.43,156.55 L388.71,155.47 L389.00,154.40 L389.29,153.34 L389.58,152.29 L389.87,151.26 L390.16,150.24 L390.45,149.24 L390.74,148.27 L391.03,147.32 L391.32,146.39 L391.61,145.49 L391.90,144.63 L392.18,143.79 L392.47,142.99 L392.76,142.23 L393.05,141.50 L393.34,140.82 L393.63,140.17 L393.92,139.57 L394.21,139.01 L394.50,138.49 L394.79,138.02 L395.08,137.60 L395.37,137.22 L395.65,136.89 L395.94,136.61 L396.23,136.38 L396.52,136.19 L396.81,136.30 L397.10,136.51 L397.39,136.77 L397.68,137.08 L397.97,137.44 L398.26,137.84 L398.55,138.30 L398.84,138.79 L399.12,139.34 L399.41,139.92 L399.70,140.55 L399.99,141.22 L400.28,141.93 L400.57,142.68 L400.86,143.47 L401.15,144.29 L401.44,145.14 L401.73,146.03 L402.02,146.94 L402.31,147.88 L402.59,148.85 L402.88,149.84 L403.17,150.85 L403.46,151.88 L403.75,152.92 L404.04,153.98 L404.33,155.04 L404.62,156.12 L404.91,157.20 L405.20,158.28 L405.49,159.37 L405.78,160.45 L406.06,161.53 L406.35,162.60 L406.64,163.66 L406.93,164.71 L407.22,165.74 L407.51,166.76 L407.80,167.76 L408.09,168.73 L408.38,169.68 L408.67,170.61 L408.96,171.51 L409.25,172.37 L409.53,173.21 L409.82,174.01 L410.11,174.77 L410.40,175.50 L410.69,176.18 L410.98,176.83 L411.27,177.43 L411.56,177.99 L411.85,178.51 L412.14,178.98 L412.43,179.40 L412.72,179.78 L413.00,180.11 L413.29,180.39 L413.58,180.62 L413.87,180.81 L414.16,180.70 L414.45,180.49 L414.74,180.23 L415.03,179.92 L415.32,179.56 L415.61,179.16 L415.90,178.70 L416.19,178.21 L416.47,177.66 L416.76,177.08 L417.05,176.45 L417.34,175.78 L417.63,175.07 L417.92,174.32 L418.21,173.53 L418.50,172.71 L418.79,171.86 L419.08,170.97 L419.37,170.06 L419.66,169.12 L419.94,168.15 L420.23,167.16 L420.52,166.15 L420.81,165.12 L421.10,164.08 L421.39,163.02 L421.68,161.96 L421.97,160.88 L422.26,159.80 L422.55,158.72 L422.84,157.63 L423.13,156.55 L423.41,155.47 L423.70,154.40 L423.99,153.34 L424.28,152.29 L424.57,151.26 L424.86,150.24 L425.15,149.24 L425.44,148.27 L425.73,147.32 L426.02,146.39 L426.31,145.49 L426.60,144.63 L426.88,143.79 L427.17,142.99 L427.46,142.23 L427.75,141.50 L428.04,140.82 L428.33,140.17 L428.62,139.57 L428.91,139.01 L429.20,138.49 L429.49,138.02 L429.78,137.60 L430.07,137.22 L430.36,136.89 L430.64,136.61 L430.93,136.38 L431.22,136.19 L431.51,136.30 L431.80,136.51 L432.09,136.77 L432.38,137.08 L432.67,137.44 L432.96,137.84 L433.25,138.30 L433.54,138.79 L433.82,139.34 L434.11,139.92 L434.40,140.55 L434.69,141.22 L434.98,141.93 L435.27,142.68 L435.56,143.47 L435.85,144.29 L436.14,145.14 L436.43,146.03 L436.72,146.94 L437.01,147.88 L437.30,148.85 L437.58,149.84 L437.87,150.85 L438.16,151.88 L438.45,152.92 L438.74,153.98 L439.03,155.04 L439.32,156.12 L439.61,157.20 L439.90,158.28 L440.19,159.37 L440.48,160.45 L440.77,161.53 L441.05,162.60 L441.34,163.66 L441.63,164.71 L441.92,165.74 L442.21,166.76 L442.50,167.76 L442.79,168.73 L443.08,169.68 L443.37,170.61 L443.66,171.51 L443.95,172.37 L444.23,173.21 L444.52,174.01 L444.81,174.77 L445.10,175.50 L445.39,176.18 L445.68,176.83 L445.97,177.43 L446.26,177.99 L446.55,178.51 L446.84,178.98 L447.13,179.40 L447.42,179.78 L447.70,180.11 L447.99,180.39 L448.28,180.62 L448.57,180.81 L448.86,180.70 L449.15,180.49 L449.44,180.23 L449.73,179.92 L450.02,179.56 L450.31,179.16 L450.60,178.70 L450.89,178.21 L451.18,177.66 L451.46,177.08 L451.75,176.45 L452.04,175.78 L452.33,175.07 L452.62,174.32 L452.91,173.53 L453.20,172.71 L453.49,171.86 L453.78,170.97 L454.07,170.06 L454.36,169.12 L454.64,168.15 L454.93,167.16 L455.22,166.15 L455.51,165.12 L455.80,164.08 L456.09,163.02 L456.38,161.96 L456.67,160.88 L456.96,159.80 L457.25,158.72 L457.54,157.63 L457.83,156.55 L458.12,155.47 L458.40,154.40 L458.69,153.34 L458.98,152.29 L459.27,151.26 L459.56,150.24 L459.85,149.24 L460.14,148.27 L460.43,147.32 L460.72,146.39 L461.01,145.49 L461.30,144.63 L461.58,143.79 L461.87,142.99 L462.16,142.23 L462.45,141.50 L462.74,140.82 L463.03,140.17 L463.32,139.57 L463.61,139.01 L463.90,138.49 L464.19,138.02 L464.48,137.60 L464.77,137.22 L465.06,136.89 L465.34,136.61 L465.63,136.38 L465.92,136.19 L466.21,136.30 L466.50,136.51 L466.79,136.77 L467.08,137.08 L467.37,137.44 L467.66,137.84 L467.95,138.30 L468.24,138.79 L468.52,139.34 L468.81,139.92 L469.10,140.55 L469.39,141.22 L469.68,141.93 L469.97,142.68 L470.26,143.47 L470.55,144.29 L470.84,145.14 L471.13,146.03 L471.42,146.94 L471.71,147.88 L472.00,148.85 L472.28,149.84 L472.57,150.85 L472.86,151.88 L473.15,152.92 L473.44,153.98 L473.73,155.04 L474.02,156.12 L474.31,157.20 L474.60,158.28 L474.89,159.37 L475.18,160.45 L475.46,161.53 L475.75,162.60 L476.04,163.66 L476.33,164.71 L476.62,165.74 L476.91,166.76 L477.20,167.76 L477.49,168.73 L477.78,169.68 L478.07,170.61 L478.36,171.51 L478.65,172.37 L478.94,173.21 L479.22,174.01 L479.51,174.77 L479.80,175.50 L480.09,176.18 L480.38,176.83 L480.67,177.43 L480.96,177.99 L481.25,178.51 L481.54,178.98 L481.83,179.40 L482.12,179.78 L482.40,180.11 L482.69,180.39 L482.98,180.62 L483.27,180.81 L483.56,180.70 L483.85,180.49 L484.14,180.23 L484.43,179.92 L484.72,179.56 L485.01,179.16 L485.30,178.70 L485.59,178.21 L485.88,177.66 L486.16,177.08 L486.45,176.45 L486.74,175.78 L487.03,175.07 L487.32,174.32 L487.61,173.53 L487.90,172.71 L488.19,171.86 L488.48,170.97 L488.77,170.06 L489.06,169.12 L489.34,168.15 L489.63,167.16 L489.92,166.15 L490.21,165.12 L490.50,164.08 L490.79,163.02 L491.08,161.96 L491.37,160.88 L491.66,159.80 L491.95,158.72 L492.24,157.63 L492.53,156.55 L492.82,155.47 L493.10,154.40 L493.39,153.34 L493.68,152.29 L493.97,151.26 L494.26,150.24 L494.55,149.24 L494.84,148.27 L495.13,147.32 L495.42,146.39 L495.71,145.49 L496.00,144.63 L496.28,143.79 L496.57,142.99 L496.86,142.23 L497.15,141.50 L497.44,140.82 L497.73,140.17 L498.02,139.57 L498.31,139.01 L498.60,138.49 L498.89,138.02 L499.18,137.60 L499.47,137.22 L499.76,136.89 L500.04,136.61 L500.33,136.38 L500.62,136.19 L500.91,136.30 L501.20,136.51 L501.49,136.77 L501.78,137.08 L502.07,137.44 L502.36,137.84 L502.65,138.30 L502.94,138.79 L503.22,139.34 L503.51,139.92 L503.80,140.55 L504.09,141.22 L504.38,141.93 L504.67,142.68 L504.96,143.47 L505.25,144.29 L505.54,145.14 L505.83,146.03 L506.12,146.94 L506.41,147.88 L506.70,148.85 L506.98,149.84 L507.27,150.85 L507.56,151.88 L507.85,152.92 L508.14,153.98 L508.43,155.04 L508.72,156.12 L509.01,157.20 L509.30,158.28 L509.59,159.37 L509.88,160.45 L510.16,161.53 L510.45,162.60 L510.74,163.66 L511.03,164.71 L511.32,165.74 L511.61,166.76 L511.90,167.76" fill="none" stroke="#2c3e98" stroke-width="1.5" stroke-linejoin="round" />
</g>
<rect x="338.4" y="126.2" width="173.5" height="61.499999999999986" fill="none" stroke="#5a5a5a" stroke-width="1"/>
<text x="0" y="0" transform="translate(376.60,133.30) scale(1.0,1.1)" font-size="8" text-anchor="start" fill="#111" style="font-weight:bold;font-style:italic"  stroke="#111" stroke-width="0.25">Three Phase AC Load Voltage</text>
<line x1="381.55" y1="226.60" x2="381.55" y2="288.50" stroke="#c9c9c9" stroke-width="0.9" />
<line x1="425.40" y1="226.60" x2="425.40" y2="288.50" stroke="#c9c9c9" stroke-width="0.9" />
<line x1="469.25" y1="226.60" x2="469.25" y2="288.50" stroke="#c9c9c9" stroke-width="0.9" />
<line x1="337.70" y1="283.40" x2="513.10" y2="283.40" stroke="#c9c9c9" stroke-width="0.9" />
<line x1="337.70" y1="269.12" x2="513.10" y2="269.12" stroke="#c9c9c9" stroke-width="0.9" />
<line x1="337.70" y1="254.85" x2="513.10" y2="254.85" stroke="#c9c9c9" stroke-width="0.9" />
<line x1="337.70" y1="240.57" x2="513.10" y2="240.57" stroke="#c9c9c9" stroke-width="0.9" />
<clipPath id="cF"><rect x="337.7" y="226.6" width="175.40000000000003" height="61.900000000000006"/></clipPath>
<text x="0" y="0" transform="translate(338.40,299.10) scale(1.0,1.1)" font-size="8" text-anchor="middle" fill="#111" style="font-weight:bold;font-style:italic"  stroke="#111" stroke-width="0.25">0</text>
<text x="0" y="0" transform="translate(382.25,299.10) scale(1.0,1.1)" font-size="8" text-anchor="middle" fill="#111" style="font-weight:bold;font-style:italic"  stroke="#111" stroke-width="0.25">0.5</text>
<text x="0" y="0" transform="translate(426.10,299.10) scale(1.0,1.1)" font-size="8" text-anchor="middle" fill="#111" style="font-weight:bold;font-style:italic"  stroke="#111" stroke-width="0.25">1</text>
<text x="0" y="0" transform="translate(469.95,299.10) scale(1.0,1.1)" font-size="8" text-anchor="middle" fill="#111" style="font-weight:bold;font-style:italic"  stroke="#111" stroke-width="0.25">1.5</text>
<text x="0" y="0" transform="translate(513.80,299.10) scale(1.0,1.1)" font-size="8" text-anchor="middle" fill="#111" style="font-weight:bold;font-style:italic"  stroke="#111" stroke-width="0.25">2</text>
<text x="0" y="0" transform="translate(333.80,285.20) scale(1.0,1.1)" font-size="8" text-anchor="end" fill="#111" style="font-weight:bold;font-style:italic"  stroke="#111" stroke-width="0.25">0</text>
<text x="0" y="0" transform="translate(333.80,271.70) scale(1.0,1.1)" font-size="8" text-anchor="end" fill="#111" style="font-weight:bold;font-style:italic"  stroke="#111" stroke-width="0.25">100</text>
<text x="0" y="0" transform="translate(333.80,259.20) scale(1.0,1.1)" font-size="8" text-anchor="end" fill="#111" style="font-weight:bold;font-style:italic"  stroke="#111" stroke-width="0.25">200</text>
<text x="0" y="0" transform="translate(333.80,243.30) scale(1.0,1.1)" font-size="8" text-anchor="end" fill="#111" style="font-weight:bold;font-style:italic"  stroke="#111" stroke-width="0.25">300</text>
<text x="0" y="0" transform="translate(333.80,230.90) scale(1.0,1.1)" font-size="8" text-anchor="end" fill="#111" style="font-weight:bold;font-style:italic"  stroke="#111" stroke-width="0.25">400</text>
<text x="0" y="0" transform="translate(426.70,308.20) scale(1.0,1.1)" font-size="8" text-anchor="middle" fill="#111" style="font-weight:bold;font-style:italic"  stroke="#111" stroke-width="0.25">Time [s]</text>
<text x="0" y="0" font-size="8" text-anchor="middle" fill="#111" stroke="#111" stroke-width="0.25" style="font-weight:bold;font-style:italic" transform="translate(315.00,255.60) rotate(-90) scale(1,1.1)">Voltage [V]</text>
<g clip-path="url(#cF)">
<path d="M338.50,290.00 L338.60,283.40 L339.20,240.57 L340.20,232.72 L341.20,233.44 L342.30,239.15 L344.00,239.86" fill="none" stroke="#2b47a6" stroke-width="1.6" stroke-linejoin="round" />
<path d="M341.21,239.90 L341.73,239.81 L342.26,239.50 L342.79,239.89 L343.31,239.85 L343.84,239.79 L344.37,240.13 L344.89,239.85 L345.42,239.75 L345.94,239.61 L346.47,240.21 L347.00,240.03 L347.52,240.21 L348.05,239.60 L348.57,239.70 L349.10,240.25 L349.63,239.45 L350.15,239.46 L350.68,239.73 L351.21,239.76 L351.73,240.15 L352.26,240.28 L352.78,239.84 L353.31,240.24 L353.84,240.13 L354.36,240.08 L354.89,240.26 L355.42,239.89 L355.94,239.91 L356.47,239.57 L356.99,239.84 L357.52,239.74 L358.05,239.86 L358.57,239.72 L359.10,239.90 L359.62,240.05 L360.15,239.44 L360.68,239.44 L361.20,239.57 L361.73,239.68 L362.26,240.02 L362.78,240.09 L363.31,240.04 L363.83,240.23 L364.36,239.63 L364.89,239.95 L365.41,239.56 L365.94,239.96 L366.47,239.47 L366.99,239.56 L367.52,240.29 L368.04,240.11 L368.57,239.51 L369.10,239.89 L369.62,239.45 L370.15,239.95 L370.68,240.23 L371.20,239.75 L371.73,239.62 L372.25,240.06 L372.78,240.21 L373.31,240.00 L373.83,239.46 L374.36,239.64 L374.88,240.19 L375.41,240.08 L375.94,240.20 L376.46,240.24 L376.99,239.61 L377.52,240.14 L378.04,239.81 L378.57,239.91 L379.09,240.13 L379.62,239.66 L380.15,240.18 L380.67,239.74 L381.20,240.19 L381.73,239.93 L382.25,240.11 L382.78,240.06 L383.30,239.46 L383.83,239.60 L384.36,240.03 L384.88,239.53 L385.41,240.11 L385.94,239.95 L386.46,239.56 L386.99,239.74 L387.51,240.20 L388.04,239.44 L388.57,240.11 L389.09,240.07 L389.62,239.63 L390.14,240.01 L390.67,240.04 L391.20,240.23 L391.72,240.21 L392.25,239.79 L392.78,240.08 L393.30,239.77 L393.83,239.97 L394.35,239.90 L394.88,239.47 L395.41,239.88 L395.93,239.80 L396.46,239.55 L396.99,240.13 L397.51,240.16 L398.04,239.51 L398.56,239.59 L399.09,240.08 L399.62,240.13 L400.14,239.66 L400.67,239.48 L401.19,240.12 L401.72,239.48 L402.25,239.53 L402.77,239.77 L403.30,239.93 L403.83,240.20 L404.35,240.26 L404.88,239.46 L405.40,240.09 L405.93,239.69 L406.46,240.07 L406.98,239.58 L407.51,239.78 L408.04,240.04 L408.56,240.14 L409.09,239.67 L409.61,240.23 L410.14,240.09 L410.67,239.81 L411.19,239.56 L411.72,239.76 L412.25,240.05 L412.77,239.50 L413.30,240.11 L413.82,240.28 L414.35,240.06 L414.88,239.91 L415.40,240.24 L415.93,240.14 L416.45,239.97 L416.98,239.80 L417.51,240.18 L418.03,239.98 L418.56,239.53 L419.09,239.45 L419.61,239.73 L420.14,239.70 L420.66,239.79 L421.19,240.17 L421.72,240.26 L422.24,240.27 L422.77,239.51 L423.30,239.69 L423.82,239.46 L424.35,240.27 L424.87,239.74 L425.40,238.88 L425.93,238.66 L426.45,240.07 L426.98,239.65 L427.50,240.61 L428.03,240.37 L428.56,240.37 L429.08,240.40 L429.61,240.70 L430.14,240.90 L430.66,240.99 L431.19,241.05 L431.71,241.70 L432.24,241.57 L432.77,241.56 L433.29,241.75 L433.82,242.30 L434.35,242.15 L434.87,242.25 L435.40,242.66 L435.92,242.78 L436.45,243.16 L436.98,243.15 L437.50,243.29 L438.03,243.91 L438.56,243.60 L439.08,243.29 L439.61,243.39 L440.13,243.52 L440.66,243.81 L441.19,243.51 L441.71,243.65 L442.24,243.77 L442.76,243.43 L443.29,244.07 L443.82,243.50 L444.34,244.12 L444.87,243.63 L445.40,243.73 L445.92,243.95 L446.45,243.55 L446.97,243.72 L447.50,243.62 L448.03,243.36 L448.55,243.92 L449.08,244.13 L449.61,243.89 L450.13,243.56 L450.66,243.97 L451.18,244.00 L451.71,243.37 L452.24,243.58 L452.76,243.77 L453.29,243.38 L453.81,243.86 L454.34,243.57 L454.87,243.97 L455.39,243.77 L455.92,243.45 L456.45,243.36 L456.97,243.39 L457.50,243.81 L458.02,243.64 L458.55,243.87 L459.08,244.03 L459.60,243.72 L460.13,243.43 L460.66,243.42 L461.18,243.53 L461.71,243.33 L462.23,243.91 L462.76,244.00 L463.29,243.76 L463.81,243.91 L464.34,243.96 L464.87,243.79 L465.39,243.61 L465.92,243.72 L466.44,243.87 L466.97,243.43 L467.50,243.30 L468.02,243.76 L468.55,244.08 L469.07,244.12 L469.60,243.40 L470.13,244.11 L470.65,243.54 L471.18,243.66 L471.71,243.88 L472.23,243.47 L472.76,244.13 L473.28,244.03 L473.81,243.75 L474.34,244.12 L474.86,243.43 L475.39,243.94 L475.92,244.02 L476.44,244.10 L476.97,243.60 L477.49,243.76 L478.02,243.60 L478.55,243.58 L479.07,243.45 L479.60,243.32 L480.12,243.56 L480.65,243.97 L481.18,243.74 L481.70,243.99 L482.23,244.13 L482.76,243.74 L483.28,243.53 L483.81,243.99 L484.33,243.91 L484.86,243.85 L485.39,243.55 L485.91,243.70 L486.44,243.62 L486.97,243.50 L487.49,243.81 L488.02,243.47 L488.54,243.37 L489.07,244.07 L489.60,243.34 L490.12,243.53 L490.65,244.03 L491.18,243.76 L491.70,243.61 L492.23,243.36 L492.75,243.82 L493.28,243.66 L493.81,243.39 L494.33,243.46 L494.86,243.33 L495.38,243.75 L495.91,243.59 L496.44,243.97 L496.96,243.53 L497.49,243.44 L498.02,243.59 L498.54,243.53 L499.07,243.96 L499.59,243.37 L500.12,243.30 L500.65,243.31 L501.17,243.68 L501.70,243.47 L502.23,243.87 L502.75,243.36 L503.28,243.41 L503.80,243.85 L504.33,244.07 L504.86,243.77 L505.38,243.67 L505.91,243.49 L506.43,243.73 L506.96,244.12 L507.49,243.45 L508.01,244.09 L508.54,243.46 L509.07,244.00 L509.59,243.86 L510.12,243.47 L510.64,244.02 L511.17,244.02 L511.70,243.70 L512.22,243.52 L512.75,243.42" fill="none" stroke="#2b47a6" stroke-width="2.3" stroke-linejoin="round" />
</g>
<rect x="337.7" y="226.6" width="175.40000000000003" height="61.900000000000006" fill="none" stroke="#5a5a5a" stroke-width="1"/>
<text x="0" y="0" transform="translate(393.50,234.00) scale(1.0,1.1)" font-size="6.8" text-anchor="start" fill="#34489e" style="font-weight:bold;font-style:italic"  stroke="#34489e" stroke-width="0.25">Voltage at PV Port</text>
<rect x="15.30" y="337.00" width="243.90" height="123.30" fill="#fff" stroke="#a0a0a0" stroke-width="0.8"/>
<rect x="15.30" y="337.00" width="243.90" height="4.70" fill="#c6c6c6" />
<rect x="25.30" y="337.80" width="8.20" height="3.10" fill="#e4e6e8" stroke="#aaa" stroke-width="0.3"/>
<rect x="33.50" y="337.80" width="36.10" height="3.10" fill="#fff" stroke="#aaa" stroke-width="0.3"/>
<rect x="69.60" y="337.80" width="98.10" height="3.10" fill="#e4e4e4" stroke="#aaa" stroke-width="0.3"/>
<rect x="167.70" y="337.80" width="37.50" height="3.10" fill="#fff" stroke="#aaa" stroke-width="0.3"/>
<rect x="15.30" y="341.70" width="8.70" height="118.60" fill="#cfd3d7" />
<line x1="23.60" y1="341.70" x2="23.60" y2="460.30" stroke="#e6e8e6" stroke-width="0.8" />
<text x="17.50" y="340.95" font-size="4.4" fill="#111" stroke="#111" stroke-width="0.25" style="font-weight:bold" textLength="6.5" lengthAdjust="spacingAndGlyphs">Tek</text>
<clipPath id="cG"><rect x="24" y="341.7" width="235.2" height="118.60000000000001"/></clipPath>
<line x1="26.00" y1="341.50" x2="26.00" y2="460.30" stroke="#cdd0d4" stroke-width="0.6" stroke-dasharray="0.7,1.66" stroke-dashoffset="2.21"/>
<line x1="44.70" y1="341.50" x2="44.70" y2="460.30" stroke="#cdd0d4" stroke-width="0.6" stroke-dasharray="0.7,1.66" stroke-dashoffset="2.21"/>
<line x1="63.40" y1="341.50" x2="63.40" y2="460.30" stroke="#cdd0d4" stroke-width="0.6" stroke-dasharray="0.7,1.66" stroke-dashoffset="2.21"/>
<line x1="82.10" y1="341.50" x2="82.10" y2="460.30" stroke="#cdd0d4" stroke-width="0.6" stroke-dasharray="0.7,1.66" stroke-dashoffset="2.21"/>
<line x1="100.80" y1="341.50" x2="100.80" y2="460.30" stroke="#cdd0d4" stroke-width="0.6" stroke-dasharray="0.7,1.66" stroke-dashoffset="2.21"/>
<line x1="138.20" y1="341.50" x2="138.20" y2="460.30" stroke="#cdd0d4" stroke-width="0.6" stroke-dasharray="0.7,1.66" stroke-dashoffset="2.21"/>
<line x1="156.90" y1="341.50" x2="156.90" y2="460.30" stroke="#cdd0d4" stroke-width="0.6" stroke-dasharray="0.7,1.66" stroke-dashoffset="2.21"/>
<line x1="175.60" y1="341.50" x2="175.60" y2="460.30" stroke="#cdd0d4" stroke-width="0.6" stroke-dasharray="0.7,1.66" stroke-dashoffset="2.21"/>
<line x1="194.30" y1="341.50" x2="194.30" y2="460.30" stroke="#cdd0d4" stroke-width="0.6" stroke-dasharray="0.7,1.66" stroke-dashoffset="2.21"/>
<line x1="213.00" y1="341.50" x2="213.00" y2="460.30" stroke="#cdd0d4" stroke-width="0.6" stroke-dasharray="0.7,1.66" stroke-dashoffset="2.21"/>
<line x1="231.70" y1="341.50" x2="231.70" y2="460.30" stroke="#cdd0d4" stroke-width="0.6" stroke-dasharray="0.7,1.66" stroke-dashoffset="2.21"/>
<line x1="250.40" y1="341.50" x2="250.40" y2="460.30" stroke="#cdd0d4" stroke-width="0.6" stroke-dasharray="0.7,1.66" stroke-dashoffset="2.21"/>
<line x1="24.00" y1="353.80" x2="259.20" y2="353.80" stroke="#cdd0d4" stroke-width="0.7" stroke-dasharray="0.8,2.94" stroke-dashoffset="2.14"/>
<line x1="24.00" y1="365.60" x2="259.20" y2="365.60" stroke="#cdd0d4" stroke-width="0.7" stroke-dasharray="0.8,2.94" stroke-dashoffset="2.14"/>
<line x1="24.00" y1="377.40" x2="259.20" y2="377.40" stroke="#cdd0d4" stroke-width="0.7" stroke-dasharray="0.8,2.94" stroke-dashoffset="2.14"/>
<line x1="24.00" y1="389.20" x2="259.20" y2="389.20" stroke="#cdd0d4" stroke-width="0.7" stroke-dasharray="0.8,2.94" stroke-dashoffset="2.14"/>
<line x1="24.00" y1="401.00" x2="259.20" y2="401.00" stroke="#cdd0d4" stroke-width="0.7" stroke-dasharray="0.8,2.94" stroke-dashoffset="2.14"/>
<line x1="24.00" y1="412.80" x2="259.20" y2="412.80" stroke="#cdd0d4" stroke-width="0.7" stroke-dasharray="0.8,2.94" stroke-dashoffset="2.14"/>
<line x1="24.00" y1="424.60" x2="259.20" y2="424.60" stroke="#cdd0d4" stroke-width="0.7" stroke-dasharray="0.8,2.94" stroke-dashoffset="2.14"/>
<line x1="24.00" y1="436.40" x2="259.20" y2="436.40" stroke="#cdd0d4" stroke-width="0.7" stroke-dasharray="0.8,2.94" stroke-dashoffset="2.14"/>
<line x1="24.00" y1="448.20" x2="259.20" y2="448.20" stroke="#cdd0d4" stroke-width="0.7" stroke-dasharray="0.8,2.94" stroke-dashoffset="2.14"/>
<line x1="119.50" y1="341.50" x2="119.50" y2="460.30" stroke="#8c8c8c" stroke-width="0.8" stroke-dasharray="1.2,0.6"/>
<line x1="69.60" y1="337.60" x2="69.60" y2="340.70" stroke="#555" stroke-width="0.5" />
<circle cx="87.9" cy="339.2" r="1.1" fill="#e8863a"/>
<path d="M117.6,341.6 L121.4,341.6 L119.5,344.6 Z" fill="#e8863a"/>
<circle cx="257.6" cy="339.2" r="1.2" fill="none" stroke="#666" stroke-width="0.5"/>
<g clip-path="url(#cG)">
<path d="M24.00,365.30 L27.30,365.30 L27.30,393.50" fill="none" stroke="#2a3c9c" stroke-width="0.9" stroke-linejoin="round" />
<path d="M28.60,342.00 L28.60,392.50 L29.80,368.00 L30.60,365.20" fill="none" stroke="#2a3c9c" stroke-width="1.1" stroke-linejoin="round" />
<path d="M30.60,365.04 L31.05,365.17 L31.50,365.22 L31.95,365.39 L32.40,365.16 L32.85,365.36 L33.30,364.38 L33.75,364.86 L34.20,365.39 L34.65,365.06 L35.10,365.34 L35.55,364.47 L36.00,364.87 L36.45,364.62 L36.90,364.95 L37.35,364.98 L37.80,364.36 L38.25,364.59 L38.70,364.66 L39.15,365.36 L39.60,365.19 L40.05,364.53 L40.50,365.23 L40.95,364.50 L41.40,365.03 L41.85,364.49 L42.30,364.35 L42.75,365.31 L43.20,364.58 L43.65,364.59 L44.10,365.43 L44.55,365.31 L45.00,364.67 L45.45,365.41 L45.90,364.94 L46.35,365.10 L46.80,364.58 L47.25,365.39 L47.70,365.11 L48.15,365.41 L48.60,365.33 L49.05,364.68 L49.50,364.75 L49.95,364.53 L50.40,364.51 L50.85,364.42 L51.30,364.68 L51.75,365.01 L52.20,364.35 L52.65,365.10 L53.10,364.72 L53.55,364.69 L54.00,365.25 L54.45,364.88 L54.90,364.70 L55.35,364.88 L55.80,365.13 L56.25,364.41 L56.70,365.42 L57.15,364.38 L57.60,365.17 L58.05,365.28 L58.50,364.37 L58.95,365.22 L59.40,364.75 L59.85,364.99 L60.30,364.36 L60.75,364.40 L61.20,364.55 L61.65,365.40 L62.10,364.57 L62.55,365.18 L63.00,365.37 L63.45,365.39 L63.90,364.73 L64.35,364.74 L64.80,364.93 L65.25,365.20 L65.70,364.47 L66.15,365.17 L66.60,365.23 L67.05,365.30 L67.50,364.39 L67.95,365.39 L68.40,364.45 L68.85,364.72 L69.30,365.02 L69.75,365.36 L70.20,364.72 L70.65,365.37 L71.10,364.95 L71.55,364.69 L72.00,364.70 L72.45,364.55 L72.90,364.44 L73.35,364.51 L73.80,365.11 L74.25,365.45 L74.70,364.53 L75.15,364.40 L75.60,365.44 L76.05,364.94 L76.50,364.80 L76.95,364.61 L77.40,365.00 L77.85,365.26 L78.30,364.85 L78.75,364.81 L79.20,364.41 L79.65,365.36 L80.10,364.39 L80.55,364.89 L81.00,365.27 L81.45,364.49 L81.90,365.15 L82.35,365.39 L82.80,365.04 L83.25,365.22 L83.70,364.47 L84.15,364.83 L84.60,364.51 L85.05,365.28 L85.50,364.67 L85.95,364.85 L86.40,365.45 L86.85,365.29 L87.30,365.42 L87.75,364.85 L88.20,364.89 L88.65,365.15 L89.10,364.88 L89.55,364.67 L90.00,364.79 L90.45,364.51 L90.90,364.76 L91.35,365.44 L91.80,365.41 L92.25,365.04 L92.70,364.90 L93.15,364.72 L93.60,364.45 L94.05,364.65 L94.50,365.21 L94.95,365.30 L95.40,364.75 L95.85,365.21 L96.30,365.20 L96.75,365.11 L97.20,365.08 L97.65,365.19 L98.10,364.75 L98.55,365.12 L99.00,364.66 L99.45,364.88 L99.90,365.20 L100.35,365.11 L100.80,364.67 L101.25,365.39 L101.70,365.06 L102.15,364.99 L102.60,364.36 L103.05,364.95 L103.50,364.63 L103.95,365.09 L104.40,364.86 L104.85,365.25 L105.30,365.06 L105.75,365.23 L106.20,364.73 L106.65,365.06 L107.10,365.16 L107.55,365.26 L108.00,364.74 L108.45,365.28 L108.90,365.31 L109.35,365.11 L109.80,365.42 L110.25,365.40 L110.70,364.92 L111.15,364.93 L111.60,364.53 L112.05,365.27 L112.50,365.38 L112.95,364.87 L113.40,365.11 L113.85,365.14 L114.30,365.15 L114.75,364.54 L115.20,365.21 L115.65,364.99 L116.10,365.08 L116.55,364.81 L117.00,365.04 L117.45,365.20 L117.90,365.05 L118.35,365.14 L118.80,364.38 L119.25,364.53 L119.70,364.84 L120.15,365.07 L120.60,364.59 L121.05,365.10 L121.50,365.04 L121.95,364.40 L122.40,364.87 L122.85,364.60 L123.30,364.41 L123.75,364.50 L124.20,364.70 L124.65,364.55 L125.10,364.56 L125.55,364.39 L126.00,364.86 L126.45,364.77 L126.90,365.02 L127.35,365.00 L127.80,364.61 L128.25,365.34 L128.70,364.35 L129.15,364.80 L129.60,364.66 L130.05,364.80 L130.50,364.48 L130.95,365.26 L131.40,364.76 L131.85,364.39 L132.30,365.02 L132.75,364.45 L133.20,364.95 L133.65,364.72 L134.10,364.99 L134.55,365.40 L135.00,365.25 L135.45,364.81 L135.90,365.24 L136.35,365.06 L136.80,364.76 L137.25,364.51 L137.70,365.01 L138.15,364.97 L138.60,365.40 L139.05,365.41 L139.50,365.02 L139.95,364.74 L140.40,365.33 L140.85,364.35 L141.30,364.47 L141.75,364.97 L142.20,365.03 L142.65,364.50 L143.10,365.04 L143.55,365.33 L144.00,364.76 L144.45,364.82 L144.90,364.60 L145.35,364.67 L145.80,365.42 L146.25,364.77 L146.70,365.41 L147.15,365.36 L147.60,365.01 L148.05,364.64 L148.50,365.43 L148.95,364.90 L149.40,364.81 L149.85,364.70 L150.30,365.43 L150.75,364.89 L151.20,364.67 L151.65,364.87 L152.10,364.48 L152.55,365.03 L153.00,364.84 L153.45,364.67 L153.90,365.21 L154.35,365.26 L154.80,364.36 L155.25,364.94 L155.70,364.65 L156.15,365.38 L156.60,365.21 L157.05,364.62 L157.50,364.64 L157.95,364.52 L158.40,365.44 L158.85,364.67 L159.30,365.02 L159.75,364.87 L160.20,365.06 L160.65,365.01 L161.10,365.17 L161.55,364.48 L162.00,365.19 L162.45,364.68 L162.90,364.94 L163.35,364.72 L163.80,364.68 L164.25,364.93 L164.70,364.86 L165.15,364.75 L165.60,365.17 L166.05,365.00 L166.50,364.39 L166.95,364.63 L167.40,364.85 L167.85,365.36 L168.30,365.33 L168.75,364.95 L169.20,364.37 L169.65,365.21 L170.10,364.82 L170.55,364.98 L171.00,365.13 L171.45,365.05 L171.90,364.88 L172.35,365.35 L172.80,364.77 L173.25,364.78 L173.70,365.29 L174.15,364.57 L174.60,364.68 L175.05,365.26 L175.50,364.42 L175.95,365.27 L176.40,365.11 L176.85,364.83 L177.30,364.66 L177.75,365.21 L178.20,365.35 L178.65,364.51 L179.10,364.88 L179.55,364.95 L180.00,364.90 L180.45,364.71 L180.90,364.52 L181.35,364.99 L181.80,365.24 L182.25,364.43 L182.70,364.60 L183.15,365.25 L183.60,365.22 L184.05,365.08 L184.50,364.38 L184.95,365.14 L185.40,365.43 L185.85,365.45 L186.30,365.12 L186.75,364.40 L187.20,365.28 L187.65,364.59 L188.10,365.06 L188.55,365.40 L189.00,365.13 L189.45,364.50 L189.90,364.67 L190.35,365.36 L190.80,364.51 L191.25,365.02 L191.70,364.81 L192.15,364.53 L192.60,365.03 L193.05,364.40 L193.50,364.47 L193.95,364.77 L194.40,364.43 L194.85,364.41 L195.30,364.98 L195.75,365.17 L196.20,365.32 L196.65,364.50 L197.10,364.82 L197.55,364.70 L198.00,365.01 L198.45,364.89 L198.90,365.38 L199.35,364.76 L199.80,364.41 L200.25,365.12 L200.70,364.52 L201.15,365.04 L201.60,364.91 L202.05,365.35 L202.50,364.96 L202.95,365.03 L203.40,364.64 L203.85,364.96 L204.30,364.63 L204.75,365.18 L205.20,364.92 L205.65,364.50 L206.10,364.61 L206.55,364.76 L207.00,365.16 L207.45,364.55 L207.90,365.13 L208.35,365.07 L208.80,364.44 L209.25,365.08 L209.70,364.45 L210.15,364.49 L210.60,365.00 L211.05,364.61 L211.50,365.31 L211.95,364.88 L212.40,364.71 L212.85,365.23 L213.30,364.38 L213.50,364.90" fill="none" stroke="#2a3c9c" stroke-width="2.1" stroke-linejoin="round" />
<line x1="213.50" y1="365.30" x2="259.20" y2="365.30" stroke="#2a3c9c" stroke-width="1.0" />
<line x1="24.00" y1="425.00" x2="26.60" y2="425.00" stroke="#b890b8" stroke-width="0.9" />
<path d="M29.20,460.30 L29.20,405.00 L30.20,402.30 L31.50,401.80" fill="none" stroke="#c070c4" stroke-width="1.2" stroke-linejoin="round" />
<path d="M31.50,402.35 L32.10,402.39 L32.70,401.98 L33.30,401.71 L33.90,401.40 L34.50,402.20 L35.10,401.96 L35.70,402.31 L36.30,401.85 L36.90,402.32 L37.50,401.73 L38.10,402.36 L38.70,402.28 L39.30,401.90 L39.90,402.05 L40.50,402.22 L41.10,401.63 L41.70,402.06 L42.30,402.37 L42.90,401.72 L43.50,402.36 L44.10,402.22 L44.70,402.41 L45.30,401.80 L45.90,401.51 L46.50,402.36 L47.10,402.37 L47.70,401.93 L48.30,401.51 L48.90,401.64 L49.50,402.16 L50.10,401.75 L50.70,402.54 L51.30,402.11 L51.90,401.64 L52.50,402.19 L53.10,401.83 L53.70,402.52 L54.30,402.49 L54.90,402.02 L55.50,402.17 L56.10,402.24 L56.70,402.37 L57.30,402.57 L57.90,401.43 L58.50,401.83 L59.10,402.12 L59.70,401.77 L60.30,402.11 L60.90,401.51 L61.50,402.46 L62.10,402.03 L62.70,401.54 L63.30,402.20 L63.90,401.77 L64.50,401.64 L65.10,401.98 L65.70,401.57 L66.30,401.65 L66.90,402.44 L67.50,402.24 L68.10,401.42 L68.70,402.33 L69.30,401.42 L69.90,401.80 L70.50,402.49 L71.10,402.14 L71.70,401.77 L72.30,401.85 L72.90,401.87 L73.50,401.55 L74.10,402.60 L74.70,401.46 L75.30,401.91 L75.90,402.30 L76.50,401.88 L77.10,402.58 L77.70,401.69 L78.30,402.58 L78.90,402.47 L79.50,402.20 L80.10,402.47 L80.70,401.94 L81.30,402.40 L81.90,402.36 L82.50,402.02 L83.10,401.97 L83.70,402.25 L84.30,401.89 L84.90,401.50 L85.50,402.30 L86.10,401.72 L86.70,401.99 L87.30,402.34 L87.90,401.61 L88.50,401.43 L89.10,401.55 L89.70,402.11 L90.30,401.83 L90.90,401.71 L91.50,401.94 L92.10,402.51 L92.70,401.71 L93.30,401.89 L93.90,402.46 L94.50,402.13 L95.10,401.72 L95.70,401.97 L96.30,401.97 L96.90,401.57 L97.50,401.85 L98.10,401.77 L98.70,402.37 L99.30,401.79 L99.90,402.19 L100.50,402.56 L101.10,402.51 L101.70,401.85 L102.30,402.12 L102.90,401.78 L103.50,401.88 L104.10,401.99 L104.70,402.35 L105.30,402.52 L105.90,401.75 L106.50,401.41 L107.10,401.94 L107.70,401.47 L108.30,401.44 L108.90,402.33 L109.50,401.53 L110.10,402.26 L110.70,401.83 L111.30,402.53 L111.90,402.42 L112.50,401.47 L113.10,401.63 L113.70,402.54 L114.30,402.14 L114.90,401.91 L115.50,402.34 L116.10,402.38 L116.70,401.99 L117.30,401.96 L117.90,401.52 L118.50,401.83 L119.10,401.57 L119.70,402.15 L120.30,402.13 L120.90,401.57 L121.50,402.15 L122.10,401.52 L122.70,401.53 L123.30,402.17 L123.90,401.96 L124.20,402.00 L124.50,424.90 L259.20,424.90" fill="none" stroke="#c070c4" stroke-width="1.6" stroke-linejoin="round" />
<path d="M26.00,425.00 L26.00,402.00 L29.80,396.00 L29.80,373.00 L30.60,371.20 L31.80,371.40 L32.40,376.00 L33.00,400.00 L33.60,460.00" fill="none" stroke="#c5d24e" stroke-width="1.0" stroke-linejoin="round" />
<path d="M38.70,460.00 L40.30,424.50 L41.50,422.98 L42.80,422.56 L44.10,423.76 L45.40,422.37 L46.70,423.49 L48.00,423.08 L49.30,422.34 L50.60,423.42 L51.90,422.29 L53.20,423.24 L54.50,422.37 L55.80,422.42 L57.10,423.22 L58.40,424.18 L59.70,422.50 L61.00,422.74 L62.30,423.71 L63.60,424.47 L64.90,423.59 L66.20,423.15 L67.50,424.54 L68.80,422.31 L70.10,424.26 L71.40,422.90 L72.70,422.55 L74.00,422.48 L75.30,422.94 L76.60,424.16 L77.90,422.63 L79.20,423.60 L80.50,423.73 L81.80,423.09 L83.10,423.51 L84.40,422.35 L85.70,422.34 L87.00,422.69 L88.30,423.83 L89.60,423.23 L90.90,422.95 L92.20,423.61 L93.50,423.29 L94.80,422.92 L96.10,424.11 L97.40,423.88 L98.70,422.79 L100.00,423.58 L101.30,423.46 L102.60,424.30 L103.90,423.95 L105.20,422.89 L106.50,424.55 L107.80,422.48 L109.10,423.20 L110.40,424.02 L111.70,422.56 L113.00,423.37 L114.30,422.29 L115.60,423.80 L116.90,424.03 L118.20,423.58 L119.50,424.30 L120.80,422.95 L122.10,423.87 L123.40,423.63 L124.70,423.59 L125.20,423.40 L125.60,423.60 L127.20,412.00 L128.60,403.00 L130.00,400.90 L130.50,400.71 L132.00,401.22 L133.50,400.64 L135.00,401.04 L136.50,400.61 L138.00,400.72 L139.50,401.25 L141.00,400.70 L142.50,401.00 L144.00,400.87 L145.50,400.87 L147.00,400.90 L148.50,400.68 L150.00,401.13 L151.50,400.61 L153.00,400.71 L154.50,400.56 L156.00,400.74 L157.50,400.84 L159.00,401.18 L160.50,400.82 L162.00,400.63 L163.50,400.73 L165.00,401.24 L166.50,400.59 L168.00,400.98 L169.50,400.81 L171.00,401.01 L172.50,400.79 L174.00,401.03 L175.50,400.90 L177.00,401.00 L178.50,401.18 L180.00,400.96 L181.50,400.65 L183.00,400.60 L184.50,401.21 L186.00,400.89 L187.50,400.69 L189.00,401.21 L190.50,400.96 L192.00,401.06 L193.50,401.17 L195.00,400.75 L196.50,400.80 L198.00,401.16 L199.50,400.64 L201.00,401.09 L202.50,400.62 L204.00,401.03 L205.50,401.04 L207.00,401.21 L208.50,401.14 L210.00,400.90 L211.50,400.69 L213.00,400.66 L214.50,400.92 L216.00,400.91 L217.50,400.60 L219.00,401.18 L220.50,400.91 L222.00,401.04 L223.50,400.70 L225.00,400.72 L226.50,400.56 L228.00,400.79 L229.50,400.74 L231.00,400.85 L232.50,400.81 L234.00,401.13 L235.50,401.17 L237.00,400.67 L238.50,400.83 L240.00,400.67 L241.50,401.01 L243.00,401.23 L244.50,400.69 L246.00,401.09 L247.50,400.76 L249.00,400.56 L250.50,401.09 L252.00,400.79 L253.50,400.67 L255.00,400.85 L256.50,400.71 L258.00,400.84 L259.20,400.90" fill="none" stroke="#c5d24e" stroke-width="1.3" stroke-linejoin="round" />
</g>
<rect x="25.80" y="342.50" width="2.40" height="5.60" fill="#e8863a" />
<text x="16.6" y="395.2" font-size="4.6" fill="#2a3c9c" style="font-weight:bold">1</text>
<path d="M18.8,393.5 L23.3,393.5 M21.5,391.8 L23.5,393.5 L21.5,395.2" stroke="#2a3c9c" stroke-width="0.8" fill="none"/>
<text x="17.4" y="431.3" font-size="4.6" fill="#b5bd55" style="font-weight:bold">4</text>
<path d="M19.8,429.6 L23.3,429.6 M21.5,428 L23.5,429.6 L21.5,431.2" stroke="#b5bd55" stroke-width="0.8" fill="none"/>
<line x1="79.50" y1="351.30" x2="91.00" y2="351.30" stroke="#444" stroke-width="0.6" stroke-dasharray="0.9,0.9"/>
<line x1="79.50" y1="351.30" x2="79.50" y2="384.00" stroke="#444" stroke-width="0.6" stroke-dasharray="0.9,0.9"/>
<path d="M77.39999999999999,383.8 L81.8,383.8 L79.6,387.8 Z M77.39999999999999,391.8 L81.8,391.8 L79.6,387.8 Z" fill="#111"/>
<line x1="79.50" y1="391.50" x2="79.50" y2="401.50" stroke="#333" stroke-width="0.8" />
<text x="92.50" y="354.20" font-size="8" text-anchor="start" fill="#151515" style=""  stroke="#151515" stroke-width="0.18">100W/div</text>
<text x="169.00" y="355.20" font-size="8" text-anchor="start" fill="#3a4c9c" style=""  stroke="#3a4c9c" stroke-width="0.18">Load Power</text>
<line x1="188.30" y1="356.00" x2="188.30" y2="361.00" stroke="#22308a" stroke-width="1.1" />
<path d="M185.9,359 L190.70000000000002,359 L188.3,364 Z" fill="#22308a"/>
<text x="169.00" y="392.90" font-size="8" text-anchor="start" fill="#85943c" style=""  stroke="#85943c" stroke-width="0.18">Battery Power</text>
<line x1="194.70" y1="393.50" x2="194.70" y2="398.30" stroke="#7f8f30" stroke-width="1.1" />
<path d="M192.2,397.0 L197.2,397.0 L194.7,401.3 Z" fill="#7f8f30"/>
<text x="177.00" y="443.10" font-size="8" text-anchor="start" fill="#6c4a9e" style=""  stroke="#6c4a9e" stroke-width="0.18">PV power</text>
<line x1="193.80" y1="436.50" x2="193.80" y2="431.00" stroke="#6c4a9e" stroke-width="0.9" />
<path d="M191.3,432.3 L196.3,432.3 L193.8,428 Z" fill="#6c4a9e"/>
<text x="201.40" y="455.90" font-size="8" text-anchor="start" fill="#151515" style=""  stroke="#151515" stroke-width="0.18">400ms/div</text>
<line x1="213.20" y1="447.00" x2="229.40" y2="447.00" stroke="#222" stroke-width="0.7" />
<path d="M210.8,447 L213.60000000000002,445.4 L213.60000000000002,448.6 Z M231.8,447 L229.0,445.4 L229.0,448.6 Z" fill="#222"/>
<rect x="285.40" y="337.70" width="228.40" height="122.70" fill="#fff" stroke="#a0a0a0" stroke-width="0.8"/>
<rect x="285.40" y="337.70" width="228.40" height="4.70" fill="#c6c6c6" />
<rect x="296.00" y="338.50" width="43.20" height="3.10" fill="#d9d9d9" stroke="#aaa" stroke-width="0.3"/>
<rect x="339.40" y="338.50" width="151.00" height="3.10" fill="#fff" stroke="#aaa" stroke-width="0.3"/>
<rect x="285.40" y="342.40" width="5.60" height="118.00" fill="#cfd3d7" />
<line x1="290.60" y1="342.40" x2="290.60" y2="460.40" stroke="#e6e8e6" stroke-width="0.8" />
<text x="287.60" y="341.65" font-size="4.4" fill="#111" stroke="#111" stroke-width="0.25" style="font-weight:bold" textLength="6.5" lengthAdjust="spacingAndGlyphs">Tek</text>
<clipPath id="cH"><rect x="291" y="342.4" width="222.79999999999995" height="117.99999999999999"/></clipPath>
<text x="300.1" y="341.5" font-size="4.6" fill="#777" textLength="12.2" lengthAdjust="spacingAndGlyphs">PreVu</text>
<line x1="299.99" y1="342.20" x2="299.99" y2="459.40" stroke="#cdd0d4" stroke-width="0.6" stroke-dasharray="0.7,1.64" stroke-dashoffset="0.85"/>
<line x1="316.42" y1="342.20" x2="316.42" y2="459.40" stroke="#cdd0d4" stroke-width="0.6" stroke-dasharray="0.7,1.64" stroke-dashoffset="0.85"/>
<line x1="332.85" y1="342.20" x2="332.85" y2="459.40" stroke="#cdd0d4" stroke-width="0.6" stroke-dasharray="0.7,1.64" stroke-dashoffset="0.85"/>
<line x1="349.28" y1="342.20" x2="349.28" y2="459.40" stroke="#cdd0d4" stroke-width="0.6" stroke-dasharray="0.7,1.64" stroke-dashoffset="0.85"/>
<line x1="365.71" y1="342.20" x2="365.71" y2="459.40" stroke="#cdd0d4" stroke-width="0.6" stroke-dasharray="0.7,1.64" stroke-dashoffset="0.85"/>
<line x1="382.14" y1="342.20" x2="382.14" y2="459.40" stroke="#cdd0d4" stroke-width="0.6" stroke-dasharray="0.7,1.64" stroke-dashoffset="0.85"/>
<line x1="398.57" y1="342.20" x2="398.57" y2="459.40" stroke="#cdd0d4" stroke-width="0.6" stroke-dasharray="0.7,1.64" stroke-dashoffset="0.85"/>
<line x1="431.43" y1="342.20" x2="431.43" y2="459.40" stroke="#cdd0d4" stroke-width="0.6" stroke-dasharray="0.7,1.64" stroke-dashoffset="0.85"/>
<line x1="447.86" y1="342.20" x2="447.86" y2="459.40" stroke="#cdd0d4" stroke-width="0.6" stroke-dasharray="0.7,1.64" stroke-dashoffset="0.85"/>
<line x1="464.29" y1="342.20" x2="464.29" y2="459.40" stroke="#cdd0d4" stroke-width="0.6" stroke-dasharray="0.7,1.64" stroke-dashoffset="0.85"/>
<line x1="480.72" y1="342.20" x2="480.72" y2="459.40" stroke="#cdd0d4" stroke-width="0.6" stroke-dasharray="0.7,1.64" stroke-dashoffset="0.85"/>
<line x1="497.15" y1="342.20" x2="497.15" y2="459.40" stroke="#cdd0d4" stroke-width="0.6" stroke-dasharray="0.7,1.64" stroke-dashoffset="0.85"/>
<line x1="291.00" y1="353.40" x2="513.80" y2="353.40" stroke="#cdd0d4" stroke-width="0.7" stroke-dasharray="0.8,2.49" stroke-dashoffset="1.27"/>
<line x1="291.00" y1="365.10" x2="513.80" y2="365.10" stroke="#cdd0d4" stroke-width="0.7" stroke-dasharray="0.8,2.49" stroke-dashoffset="1.27"/>
<line x1="291.00" y1="376.80" x2="513.80" y2="376.80" stroke="#cdd0d4" stroke-width="0.7" stroke-dasharray="0.8,2.49" stroke-dashoffset="1.27"/>
<line x1="291.00" y1="388.50" x2="513.80" y2="388.50" stroke="#cdd0d4" stroke-width="0.7" stroke-dasharray="0.8,2.49" stroke-dashoffset="1.27"/>
<line x1="291.00" y1="411.90" x2="513.80" y2="411.90" stroke="#cdd0d4" stroke-width="0.7" stroke-dasharray="0.8,2.49" stroke-dashoffset="1.27"/>
<line x1="291.00" y1="423.60" x2="513.80" y2="423.60" stroke="#cdd0d4" stroke-width="0.7" stroke-dasharray="0.8,2.49" stroke-dashoffset="1.27"/>
<line x1="291.00" y1="435.30" x2="513.80" y2="435.30" stroke="#cdd0d4" stroke-width="0.7" stroke-dasharray="0.8,2.49" stroke-dashoffset="1.27"/>
<line x1="291.00" y1="447.00" x2="513.80" y2="447.00" stroke="#cdd0d4" stroke-width="0.7" stroke-dasharray="0.8,2.49" stroke-dashoffset="1.27"/>
<line x1="415.00" y1="342.20" x2="415.00" y2="459.40" stroke="#8a8a8a" stroke-width="0.6" stroke-dasharray="0.9,0.9"/>
<line x1="291.00" y1="400.30" x2="513.80" y2="400.30" stroke="#c87878" stroke-width="0.6" stroke-dasharray="1.5,1.2"/>
<line x1="339.40" y1="339.20" x2="460.50" y2="339.20" stroke="#d86a6a" stroke-width="0.6" />
<line x1="436.50" y1="337.80" x2="436.50" y2="340.60" stroke="#555" stroke-width="0.5" />
<circle cx="338.8" cy="339.6" r="0.9" fill="#e8863a"/>
<circle cx="415" cy="339.2" r="1.1" fill="#e8863a"/>
<path d="M413.2,342.2 L416.8,342.2 L415,345 Z" fill="#e8863a"/>
<rect x="511.80" y="342.00" width="2.00" height="8.00" fill="#888" />
<rect x="285.40" y="458.60" width="228.40" height="1.90" fill="#b4b6ba" />
<g clip-path="url(#cH)">
<path d="M291.30,421.83 L291.65,421.18 L292.00,420.16 L292.35,418.78 L292.70,417.08 L293.05,415.08 L293.40,412.81 L293.75,410.33 L294.10,407.66 L294.45,404.87 L294.80,402.00 L295.15,399.09 L295.50,396.21 L295.85,393.41 L296.20,390.73 L296.55,388.23 L296.90,385.94 L297.25,383.91 L297.60,382.17 L297.95,380.76 L298.30,379.71 L298.65,379.02 L299.00,378.72 L299.35,378.80 L299.70,379.27 L300.05,380.12 L300.40,381.33 L300.75,382.88 L301.10,384.74 L301.45,386.89 L301.80,389.28 L302.15,391.86 L302.50,394.60 L302.85,397.44 L303.20,400.34 L303.55,403.23 L303.90,406.08 L304.25,408.82 L304.60,411.42 L304.95,413.81 L305.30,415.97 L305.65,417.85 L306.00,419.41 L306.35,420.64 L306.70,421.50 L307.05,421.99 L307.40,422.09 L307.75,421.80 L308.10,421.13 L308.45,420.09 L308.80,418.69 L309.15,416.97 L309.50,414.96 L309.85,412.68 L310.20,410.18 L310.55,407.51 L310.90,404.71 L311.25,401.83 L311.60,398.93 L311.95,396.05 L312.30,393.25 L312.65,390.58 L313.00,388.09 L313.35,385.81 L313.70,383.80 L314.05,382.08 L314.40,380.69 L314.75,379.66 L315.10,378.99 L315.45,378.71 L315.80,378.82 L316.15,379.31 L316.50,380.18 L316.85,381.41 L317.20,382.98 L317.55,384.86 L317.90,387.02 L318.25,389.42 L318.60,392.01 L318.95,394.76 L319.30,397.61 L319.65,400.50 L320.00,403.40 L320.35,406.24 L320.70,408.98 L321.05,411.56 L321.40,413.94 L321.75,416.09 L322.10,417.95 L322.45,419.49 L322.80,420.70 L323.15,421.54 L323.50,422.00 L323.85,422.08 L324.20,421.77 L324.55,421.08 L324.90,420.02 L325.25,418.60 L325.60,416.87 L325.95,414.83 L326.30,412.54 L326.65,410.03 L327.00,407.35 L327.35,404.54 L327.70,401.66 L328.05,398.76 L328.40,395.89 L328.75,393.10 L329.10,390.44 L329.45,387.95 L329.80,385.69 L330.15,383.69 L330.50,382.00 L330.85,380.63 L331.20,379.61 L331.55,378.97 L331.90,378.71 L332.25,378.83 L332.60,379.35 L332.95,380.24 L333.30,381.49 L333.65,383.08 L334.00,384.98 L334.35,387.15 L334.70,389.56 L335.05,392.17 L335.40,394.92 L335.75,397.77 L336.10,400.67 L336.45,403.56 L336.80,406.40 L337.15,409.13 L337.50,411.70 L337.85,414.07 L338.20,416.20 L338.55,418.04 L338.90,419.57 L339.25,420.76 L339.60,421.58 L339.95,422.02 L340.30,422.08 L340.65,421.74 L341.00,421.03 L341.35,419.95 L341.70,418.51 L342.05,416.76 L342.40,414.71 L342.75,412.40 L343.10,409.88 L343.45,407.19 L343.80,404.38 L344.15,401.50 L344.50,398.60 L344.85,395.73 L345.20,392.94 L345.55,390.29 L345.90,387.82 L346.25,385.57 L346.60,383.59 L346.95,381.91 L347.30,380.56 L347.65,379.56 L348.00,378.94 L348.35,378.70 L348.70,378.85 L349.05,379.39 L349.40,380.30 L349.75,381.57 L350.10,383.18 L350.45,385.09 L350.80,387.28 L351.15,389.71 L351.50,392.32 L351.85,395.08 L352.20,397.94 L352.55,400.84 L352.90,403.73 L353.25,406.56 L353.60,409.28 L353.95,411.84 L354.30,414.20 L354.65,416.31 L355.00,418.14 L355.35,419.65 L355.70,420.81 L356.05,421.61 L356.40,422.03 L356.75,422.07 L357.10,421.71 L357.45,420.98 L357.80,419.87 L358.15,418.42 L358.50,416.65 L358.85,414.58 L359.20,412.26 L359.55,409.73 L359.90,407.03 L360.25,404.22 L360.60,401.33 L360.95,398.43 L361.30,395.57 L361.65,392.79 L362.00,390.14 L362.35,387.68 L362.70,385.45 L363.05,383.48 L363.40,381.82 L363.75,380.49 L364.10,379.52 L364.45,378.92 L364.80,378.70 L365.15,378.87 L365.50,379.43 L365.85,380.36 L366.20,381.65 L366.55,383.28 L366.90,385.21 L367.25,387.41 L367.60,389.85 L367.95,392.48 L368.30,395.24 L368.65,398.10 L369.00,401.00 L369.35,403.89 L369.70,406.72 L370.05,409.43 L370.40,411.98 L370.75,414.33 L371.10,416.42 L371.45,418.23 L371.80,419.72 L372.15,420.87 L372.50,421.65 L372.85,422.05 L373.20,422.06 L373.55,421.68 L373.90,420.92 L374.25,419.80 L374.60,418.33 L374.95,416.54 L375.30,414.46 L375.65,412.12 L376.00,409.58 L376.35,406.88 L376.70,404.05 L377.05,401.17 L377.40,398.27 L377.75,395.40 L378.10,392.63 L378.45,390.00 L378.80,387.55 L379.15,385.33 L379.50,383.38 L379.85,381.74 L380.20,380.43 L380.55,379.47 L380.90,378.89 L381.25,378.70 L381.60,378.89 L381.95,379.47 L382.30,380.43 L382.65,381.74 L383.00,383.38 L383.35,385.33 L383.70,387.55 L384.05,390.00 L384.40,392.63 L384.75,395.40 L385.10,398.27 L385.45,401.17 L385.80,404.05 L386.15,406.88 L386.50,409.58 L386.85,412.12 L387.20,414.46 L387.55,416.54 L387.90,418.33 L388.25,419.80 L388.60,420.92 L388.95,421.68 L389.30,422.06 L389.65,422.05 L390.00,421.65 L390.35,420.87 L390.70,419.72 L391.05,418.23 L391.40,416.42 L391.75,414.33 L392.10,411.98 L392.45,409.43 L392.80,406.72 L393.15,403.89 L393.50,401.00 L393.85,398.10 L394.20,395.24 L394.55,392.48 L394.90,389.85 L395.25,387.41 L395.60,385.21 L395.95,383.28 L396.30,381.65 L396.65,380.36 L397.00,379.43 L397.35,378.87 L397.70,378.70 L398.05,378.92 L398.40,379.52 L398.75,380.49 L399.10,381.82 L399.45,383.48 L399.80,385.45 L400.15,387.68 L400.50,390.14 L400.85,392.79 L401.20,395.57 L401.55,398.43 L401.90,401.33 L402.25,404.22 L402.60,407.03 L402.95,409.73 L403.30,412.26 L403.65,414.58 L404.00,416.65 L404.35,418.42 L404.70,419.87 L405.05,420.98 L405.40,421.71 L405.75,422.07 L406.10,422.03 L406.45,421.61 L406.80,420.81 L407.15,419.65 L407.50,418.14 L407.85,416.31 L408.20,414.20 L408.55,411.84 L408.90,409.28 L409.25,406.56 L409.60,403.73 L409.95,400.84 L410.30,397.94 L410.65,395.08 L411.00,392.32 L411.35,389.71 L411.70,387.28 L412.05,385.09 L412.40,383.18 L412.75,381.57 L413.10,380.30 L413.45,379.39 L413.80,378.85 L414.15,378.70 L414.50,378.94 L414.85,379.56 L415.20,380.56 L415.55,381.91 L415.90,383.59 L416.25,385.57 L416.60,387.82 L416.95,390.29 L417.30,392.94 L417.65,395.73 L418.00,398.60 L418.35,401.50 L418.70,404.38 L419.05,407.19 L419.40,409.88 L419.75,412.40 L420.10,414.71 L420.45,416.76 L420.80,418.51 L421.15,419.95 L421.50,421.03 L421.85,421.74 L422.20,422.08 L422.55,422.02 L422.90,421.58 L423.25,420.76 L423.60,419.57 L423.95,418.04 L424.30,416.20 L424.65,414.07 L425.00,411.70 L425.35,409.13 L425.70,406.40 L426.05,403.56 L426.40,400.67 L426.75,397.77 L427.10,394.92 L427.45,392.17 L427.80,389.56 L428.15,387.15 L428.50,384.98 L428.85,383.08 L429.20,381.49 L429.55,380.24 L429.90,379.35 L430.25,378.83 L430.60,378.71 L430.95,378.97 L431.30,379.61 L431.65,380.63 L432.00,382.00 L432.35,383.69 L432.70,385.69 L433.05,387.95 L433.40,390.44 L433.75,393.10 L434.10,395.89 L434.45,398.76 L434.80,401.66 L435.15,404.54 L435.50,407.35 L435.85,410.03 L436.20,412.54 L436.55,414.83 L436.90,416.87 L437.25,418.60 L437.60,420.02 L437.95,421.08 L438.30,421.77 L438.65,422.08 L439.00,422.00 L439.35,421.54 L439.70,420.70 L440.05,419.49 L440.40,417.95 L440.75,416.09 L441.10,413.94 L441.45,411.56 L441.80,408.98 L442.15,406.24 L442.50,403.40 L442.85,400.50 L443.20,397.61 L443.55,394.76 L443.90,392.01 L444.25,389.42 L444.60,387.02 L444.95,384.86 L445.30,382.98 L445.65,381.41 L446.00,380.18 L446.35,379.31 L446.70,378.82 L447.05,378.71 L447.40,378.99 L447.75,379.66 L448.10,380.69 L448.45,382.08 L448.80,383.80 L449.15,385.81 L449.50,388.09 L449.85,390.58 L450.20,393.25 L450.55,396.05 L450.90,398.93 L451.25,401.83 L451.60,404.71 L451.95,407.51 L452.30,410.18 L452.65,412.68 L453.00,414.96 L453.35,416.97 L453.70,418.69 L454.05,420.09 L454.40,421.13 L454.75,421.80 L455.10,422.09 L455.45,421.99 L455.80,421.50 L456.15,420.64 L456.50,419.41 L456.85,417.85 L457.20,415.97 L457.55,413.81 L457.90,411.42 L458.25,408.82 L458.60,406.08 L458.95,403.23 L459.30,400.34 L459.65,397.44 L460.00,394.60 L460.35,391.86 L460.70,389.28 L461.05,386.89 L461.40,384.74 L461.75,382.88 L462.10,381.33 L462.45,380.12 L462.80,379.27 L463.15,378.80 L463.50,378.72 L463.85,379.02 L464.20,379.71 L464.55,380.76 L464.90,382.17 L465.25,383.91 L465.60,385.94 L465.95,388.23 L466.30,390.73 L466.65,393.41 L467.00,396.21 L467.35,399.09 L467.70,402.00 L468.05,404.87 L468.40,407.66 L468.75,410.33 L469.10,412.81 L469.45,415.08 L469.80,417.08 L470.15,418.78 L470.50,420.16 L470.85,421.18 L471.20,421.83 L471.55,422.09 L471.90,421.97 L472.25,421.46 L472.60,420.58 L472.95,419.33 L473.30,417.75 L473.65,415.85 L474.00,413.68 L474.35,411.27 L474.70,408.67 L475.05,405.92 L475.40,403.07 L475.75,400.17 L476.10,397.28 L476.45,394.44 L476.80,391.71 L477.15,389.13 L477.50,386.76 L477.85,384.63 L478.20,382.78 L478.55,381.25 L478.90,380.06 L479.25,379.23 L479.60,378.78 L479.95,378.72 L480.30,379.05 L480.65,379.76 L481.00,380.84 L481.35,382.26 L481.70,384.02 L482.05,386.06 L482.40,388.36 L482.75,390.88 L483.10,393.57 L483.45,396.38 L483.80,399.26 L484.15,402.16 L484.50,405.03 L484.85,407.82 L485.20,410.47 L485.55,412.95 L485.90,415.20 L486.25,417.19 L486.60,418.87 L486.95,420.23 L487.30,421.23 L487.65,421.85 L488.00,422.10 L488.35,421.95 L488.70,421.42 L489.05,420.52 L489.40,419.25 L489.75,417.65 L490.10,415.74 L490.45,413.55 L490.80,411.13 L491.15,408.52 L491.50,405.76 L491.85,402.90 L492.20,400.01 L492.55,397.11 L492.90,394.28 L493.25,391.56 L493.60,388.99 L493.95,386.63 L494.30,384.52 L494.65,382.68 L495.00,381.17 L495.35,380.00 L495.70,379.20 L496.05,378.77 L496.40,378.73 L496.75,379.08 L497.10,379.81 L497.45,380.91 L497.80,382.36 L498.15,384.13 L498.50,386.19 L498.85,388.50 L499.20,391.03 L499.55,393.73 L499.90,396.54 L500.25,399.43 L500.60,402.33 L500.95,405.19 L501.30,407.98 L501.65,410.62 L502.00,413.08 L502.35,415.32 L502.70,417.29 L503.05,418.96 L503.40,420.29 L503.75,421.27 L504.10,421.88 L504.45,422.10 L504.80,421.93 L505.15,421.38 L505.50,420.45 L505.85,419.17 L506.20,417.55 L506.55,415.62 L506.90,413.42 L507.25,410.99 L507.60,408.36 L507.95,405.60 L508.30,402.74 L508.65,399.84 L509.00,396.95 L509.35,394.12 L509.70,391.41 L510.05,388.85 L510.40,386.50 L510.75,384.40 L511.10,382.59 L511.45,381.09 L511.80,379.94 L512.15,379.16 L512.50,378.76 L512.85,378.74 L513.20,379.11 L513.55,379.86 L513.90,380.98" fill="none" stroke="#8088c8" stroke-width="1.0" stroke-linejoin="round" />
<path d="M291.30,410.79 L291.65,410.65 L292.00,410.33 L292.35,409.84 L292.70,409.20 L293.05,408.41 L293.40,407.49 L293.75,406.45 L294.10,405.32 L294.45,404.10 L294.80,402.83 L295.15,401.53 L295.50,400.22 L295.85,398.93 L296.20,397.67 L296.55,396.47 L296.90,395.35 L297.25,394.33 L297.60,393.43 L297.95,392.67 L298.30,392.05 L298.65,391.60 L299.00,391.31 L299.35,391.20 L299.70,391.26 L300.05,391.50 L300.40,391.91 L300.75,392.48 L301.10,393.20 L301.45,394.06 L301.80,395.05 L302.15,396.14 L302.50,397.32 L302.85,398.56 L303.20,399.85 L303.55,401.16 L303.90,402.47 L304.25,403.75 L304.60,404.98 L304.95,406.14 L305.30,407.20 L305.65,408.16 L306.00,408.99 L306.35,409.68 L306.70,410.21 L307.05,410.57 L307.40,410.77 L307.75,410.79 L308.10,410.63 L308.45,410.30 L308.80,409.81 L309.15,409.16 L309.50,408.36 L309.85,407.43 L310.20,406.39 L310.55,405.25 L310.90,404.03 L311.25,402.76 L311.60,401.46 L311.95,400.15 L312.30,398.85 L312.65,397.60 L313.00,396.40 L313.35,395.29 L313.70,394.28 L314.05,393.38 L314.40,392.63 L314.75,392.02 L315.10,391.58 L315.45,391.30 L315.80,391.20 L316.15,391.27 L316.50,391.52 L316.85,391.94 L317.20,392.51 L317.55,393.24 L317.90,394.11 L318.25,395.11 L318.60,396.20 L318.95,397.39 L319.30,398.63 L319.65,399.92 L320.00,401.23 L320.35,402.54 L320.70,403.82 L321.05,405.04 L321.40,406.20 L321.75,407.26 L322.10,408.21 L322.45,409.03 L322.80,409.71 L323.15,410.23 L323.50,410.59 L323.85,410.77 L324.20,410.78 L324.55,410.62 L324.90,410.28 L325.25,409.78 L325.60,409.12 L325.95,408.31 L326.30,407.38 L326.65,406.33 L327.00,405.18 L327.35,403.96 L327.70,402.69 L328.05,401.38 L328.40,400.07 L328.75,398.78 L329.10,397.53 L329.45,396.33 L329.80,395.23 L330.15,394.22 L330.50,393.34 L330.85,392.59 L331.20,391.99 L331.55,391.56 L331.90,391.29 L332.25,391.20 L332.60,391.28 L332.95,391.54 L333.30,391.96 L333.65,392.55 L334.00,393.29 L334.35,394.17 L334.70,395.17 L335.05,396.27 L335.40,397.46 L335.75,398.71 L336.10,400.00 L336.45,401.31 L336.80,402.61 L337.15,403.89 L337.50,405.11 L337.85,406.26 L338.20,407.32 L338.55,408.26 L338.90,409.08 L339.25,409.74 L339.60,410.26 L339.95,410.60 L340.30,410.78 L340.65,410.78 L341.00,410.60 L341.35,410.26 L341.70,409.74 L342.05,409.08 L342.40,408.26 L342.75,407.32 L343.10,406.26 L343.45,405.11 L343.80,403.89 L344.15,402.61 L344.50,401.31 L344.85,400.00 L345.20,398.71 L345.55,397.46 L345.90,396.27 L346.25,395.17 L346.60,394.17 L346.95,393.29 L347.30,392.55 L347.65,391.96 L348.00,391.54 L348.35,391.28 L348.70,391.20 L349.05,391.29 L349.40,391.56 L349.75,391.99 L350.10,392.59 L350.45,393.34 L350.80,394.22 L351.15,395.23 L351.50,396.33 L351.85,397.53 L352.20,398.78 L352.55,400.07 L352.90,401.38 L353.25,402.69 L353.60,403.96 L353.95,405.18 L354.30,406.33 L354.65,407.38 L355.00,408.31 L355.35,409.12 L355.70,409.78 L356.05,410.28 L356.40,410.62 L356.75,410.78 L357.10,410.77 L357.45,410.59 L357.80,410.23 L358.15,409.71 L358.50,409.03 L358.85,408.21 L359.20,407.26 L359.55,406.20 L359.90,405.04 L360.25,403.82 L360.60,402.54 L360.95,401.23 L361.30,399.92 L361.65,398.63 L362.00,397.39 L362.35,396.20 L362.70,395.11 L363.05,394.11 L363.40,393.24 L363.75,392.51 L364.10,391.94 L364.45,391.52 L364.80,391.27 L365.15,391.20 L365.50,391.30 L365.85,391.58 L366.20,392.02 L366.55,392.63 L366.90,393.38 L367.25,394.28 L367.60,395.29 L367.95,396.40 L368.30,397.60 L368.65,398.85 L369.00,400.15 L369.35,401.46 L369.70,402.76 L370.05,404.03 L370.40,405.25 L370.75,406.39 L371.10,407.43 L371.45,408.36 L371.80,409.16 L372.15,409.81 L372.50,410.30 L372.85,410.63 L373.20,410.79 L373.55,410.77 L373.90,410.57 L374.25,410.21 L374.60,409.68 L374.95,408.99 L375.30,408.16 L375.65,407.20 L376.00,406.14 L376.35,404.98 L376.70,403.75 L377.05,402.47 L377.40,401.16 L377.75,399.85 L378.10,398.56 L378.45,397.32 L378.80,396.14 L379.15,395.05 L379.50,394.06 L379.85,393.20 L380.20,392.48 L380.55,391.91 L380.90,391.50 L381.25,391.26 L381.60,391.20 L381.95,391.31 L382.30,391.60 L382.65,392.05 L383.00,392.67 L383.35,393.43 L383.70,394.33 L384.05,395.35 L384.40,396.47 L384.75,397.67 L385.10,398.93 L385.45,400.22 L385.80,401.53 L386.15,402.83 L386.50,404.10 L386.85,405.32 L387.20,406.45 L387.55,407.49 L387.90,408.41 L388.25,409.20 L388.60,409.84 L388.95,410.33 L389.30,410.65 L389.65,410.79 L390.00,410.76 L390.35,410.56 L390.70,410.18 L391.05,409.64 L391.40,408.95 L391.75,408.11 L392.10,407.15 L392.45,406.07 L392.80,404.91 L393.15,403.67 L393.50,402.39 L393.85,401.08 L394.20,399.78 L394.55,398.49 L394.90,397.25 L395.25,396.07 L395.60,394.99 L395.95,394.01 L396.30,393.15 L396.65,392.44 L397.00,391.88 L397.35,391.48 L397.70,391.26 L398.05,391.20 L398.40,391.33 L398.75,391.62 L399.10,392.09 L399.45,392.71 L399.80,393.48 L400.15,394.39 L400.50,395.41 L400.85,396.53 L401.20,397.74 L401.55,399.00 L401.90,400.30 L402.25,401.61 L402.60,402.91 L402.95,404.17 L403.30,405.38 L403.65,406.51 L404.00,407.55 L404.35,408.46 L404.70,409.24 L405.05,409.88 L405.40,410.35 L405.75,410.66 L406.10,410.79 L406.45,410.75 L406.80,410.54 L407.15,410.15 L407.50,409.60 L407.85,408.90 L408.20,408.06 L408.55,407.09 L408.90,406.01 L409.25,404.84 L409.60,403.60 L409.95,402.32 L410.30,401.01 L410.65,399.70 L411.00,398.42 L411.35,397.18 L411.70,396.01 L412.05,394.93 L412.40,393.96 L412.75,393.11 L413.10,392.40 L413.45,391.85 L413.80,391.47 L414.15,391.25 L414.50,391.21 L414.85,391.34 L415.20,391.64 L415.55,392.12 L415.90,392.75 L416.25,393.53 L416.60,394.44 L416.95,395.47 L417.30,396.60 L417.65,397.81 L418.00,399.07 L418.35,400.37 L418.70,401.68 L419.05,402.98 L419.40,404.24 L419.75,405.45 L420.10,406.58 L420.45,407.60 L420.80,408.51 L421.15,409.28 L421.50,409.91 L421.85,410.37 L422.20,410.67 L422.55,410.80 L422.90,410.75 L423.25,410.52 L423.60,410.13 L423.95,409.57 L424.30,408.86 L424.65,408.01 L425.00,407.03 L425.35,405.94 L425.70,404.77 L426.05,403.53 L426.40,402.24 L426.75,400.93 L427.10,399.63 L427.45,398.34 L427.80,397.11 L428.15,395.94 L428.50,394.87 L428.85,393.90 L429.20,393.07 L429.55,392.37 L429.90,391.83 L430.25,391.45 L430.60,391.24 L430.95,391.21 L431.30,391.35 L431.65,391.67 L432.00,392.15 L432.35,392.79 L432.70,393.58 L433.05,394.50 L433.40,395.53 L433.75,396.67 L434.10,397.88 L434.45,399.15 L434.80,400.45 L435.15,401.76 L435.50,403.06 L435.85,404.32 L436.20,405.52 L436.55,406.64 L436.90,407.66 L437.25,408.56 L437.60,409.32 L437.95,409.94 L438.30,410.39 L438.65,410.68 L439.00,410.80 L439.35,410.74 L439.70,410.50 L440.05,410.10 L440.40,409.53 L440.75,408.81 L441.10,407.95 L441.45,406.97 L441.80,405.88 L442.15,404.70 L442.50,403.46 L442.85,402.17 L443.20,400.86 L443.55,399.55 L443.90,398.27 L444.25,397.04 L444.60,395.88 L444.95,394.81 L445.30,393.85 L445.65,393.02 L446.00,392.33 L446.35,391.80 L446.70,391.43 L447.05,391.23 L447.40,391.21 L447.75,391.36 L448.10,391.69 L448.45,392.18 L448.80,392.83 L449.15,393.63 L449.50,394.55 L449.85,395.60 L450.20,396.73 L450.55,397.95 L450.90,399.22 L451.25,400.52 L451.60,401.83 L451.95,403.13 L452.30,404.39 L452.65,405.58 L453.00,406.70 L453.35,407.71 L453.70,408.60 L454.05,409.36 L454.40,409.97 L454.75,410.42 L455.10,410.69 L455.45,410.80 L455.80,410.73 L456.15,410.48 L456.50,410.07 L456.85,409.49 L457.20,408.77 L457.55,407.90 L457.90,406.91 L458.25,405.81 L458.60,404.63 L458.95,403.38 L459.30,402.09 L459.65,400.78 L460.00,399.48 L460.35,398.20 L460.70,396.97 L461.05,395.82 L461.40,394.75 L461.75,393.80 L462.10,392.98 L462.45,392.30 L462.80,391.77 L463.15,391.42 L463.50,391.23 L463.85,391.22 L464.20,391.38 L464.55,391.71 L464.90,392.21 L465.25,392.87 L465.60,393.68 L465.95,394.61 L466.30,395.66 L466.65,396.80 L467.00,398.02 L467.35,399.29 L467.70,400.60 L468.05,401.91 L468.40,403.20 L468.75,404.46 L469.10,405.65 L469.45,406.76 L469.80,407.77 L470.15,408.65 L470.50,409.40 L470.85,410.00 L471.20,410.44 L471.55,410.70 L471.90,410.80 L472.25,410.72 L472.60,410.47 L472.95,410.04 L473.30,409.46 L473.65,408.72 L474.00,407.85 L474.35,406.85 L474.70,405.75 L475.05,404.56 L475.40,403.31 L475.75,402.02 L476.10,400.71 L476.45,399.40 L476.80,398.13 L477.15,396.90 L477.50,395.75 L477.85,394.70 L478.20,393.75 L478.55,392.94 L478.90,392.26 L479.25,391.75 L479.60,391.40 L479.95,391.22 L480.30,391.22 L480.65,391.39 L481.00,391.74 L481.35,392.25 L481.70,392.91 L482.05,393.73 L482.40,394.67 L482.75,395.72 L483.10,396.87 L483.45,398.09 L483.80,399.37 L484.15,400.67 L484.50,401.98 L484.85,403.27 L485.20,404.53 L485.55,405.71 L485.90,406.82 L486.25,407.82 L486.60,408.70 L486.95,409.44 L487.30,410.03 L487.65,410.46 L488.00,410.71 L488.35,410.80 L488.70,410.71 L489.05,410.45 L489.40,410.01 L489.75,409.42 L490.10,408.67 L490.45,407.79 L490.80,406.79 L491.15,405.68 L491.50,404.49 L491.85,403.24 L492.20,401.94 L492.55,400.63 L492.90,399.33 L493.25,398.06 L493.60,396.84 L493.95,395.69 L494.30,394.64 L494.65,393.70 L495.00,392.89 L495.35,392.23 L495.70,391.73 L496.05,391.39 L496.40,391.22 L496.75,391.23 L497.10,391.41 L497.45,391.76 L497.80,392.28 L498.15,392.96 L498.50,393.78 L498.85,394.72 L499.20,395.78 L499.55,396.94 L499.90,398.16 L500.25,399.44 L500.60,400.75 L500.95,402.06 L501.30,403.35 L501.65,404.60 L502.00,405.78 L502.35,406.88 L502.70,407.87 L503.05,408.74 L503.40,409.48 L503.75,410.06 L504.10,410.48 L504.45,410.72 L504.80,410.80 L505.15,410.70 L505.50,410.43 L505.85,409.98 L506.20,409.38 L506.55,408.63 L506.90,407.74 L507.25,406.73 L507.60,405.62 L507.95,404.42 L508.30,403.17 L508.65,401.87 L509.00,400.56 L509.35,399.26 L509.70,397.99 L510.05,396.77 L510.40,395.63 L510.75,394.58 L511.10,393.65 L511.45,392.85 L511.80,392.20 L512.15,391.70 L512.50,391.37 L512.85,391.21 L513.20,391.23 L513.55,391.42 L513.90,391.79" fill="none" stroke="#d06868" stroke-width="1.0" stroke-linejoin="round" />
</g>
<circle cx="294.3" cy="346.7" r="2.1" fill="#e8863a"/>
<path d="M293,346.7 L295.4,345.4 L295.4,348 Z" fill="#fff"/>
<text x="286" y="402" font-size="4.4" fill="#d05858" style="font-weight:bold">1</text>
<path d="M288.2,398.8 L290.8,400.3 L288.2,401.8 Z" fill="#d05858"/>
<text x="307.70" y="375.50" font-size="8" text-anchor="start" fill="#d03838" style=""  stroke="#d03838" stroke-width="0.18">Phase-a Current</text>
<line x1="332.30" y1="378.60" x2="332.30" y2="388.00" stroke="#c02020" stroke-width="1.0" />
<path d="M329.8,386.7 L334.8,386.7 L332.3,391 Z" fill="#c02020"/>
<text x="330.00" y="441.60" font-size="8" text-anchor="start" fill="#2c3f9c" style=""  stroke="#2c3f9c" stroke-width="0.18">Phase-a Voltage</text>
<line x1="357.90" y1="433.50" x2="357.90" y2="425.00" stroke="#2c3f9c" stroke-width="1.0" />
<path d="M355.4,426.3 L360.4,426.3 L357.9,422 Z" fill="#2c3f9c"/>
<line x1="415.00" y1="357.70" x2="438.00" y2="357.70" stroke="#444" stroke-width="0.6" stroke-dasharray="0.9,0.9"/>
<text x="439.80" y="360.60" font-size="8" text-anchor="start" fill="#151515" style=""  stroke="#151515" stroke-width="0.18">5A/div</text>
<line x1="431.70" y1="371.70" x2="455.00" y2="371.70" stroke="#444" stroke-width="0.6" stroke-dasharray="0.9,0.9"/>
<line x1="431.70" y1="371.70" x2="431.70" y2="378.00" stroke="#444" stroke-width="0.6" stroke-dasharray="0.9,0.9"/>
<text x="455.90" y="374.60" font-size="8" text-anchor="start" fill="#151515" style=""  stroke="#151515" stroke-width="0.18">10V/div</text>
<path d="M429.5,378 L433.9,378 L431.7,380.7 Z M429.5,383.4 L433.9,383.4 L431.7,380.7 Z" fill="#111"/>
<line x1="431.70" y1="383.00" x2="431.70" y2="400.30" stroke="#555" stroke-width="0.5" />
<path d="M412.8,388 L417.2,388 L415,392.0 Z M412.8,396 L417.2,396 L415,392.0 Z" fill="#111"/>
<text x="452.20" y="454.30" font-size="8" text-anchor="start" fill="#151515" style=""  stroke="#151515" stroke-width="0.18">20ms/div</text>
<line x1="459.10" y1="440.60" x2="472.40" y2="440.60" stroke="#222" stroke-width="0.7" />
<path d="M456.7,440.6 L459.5,439.0 L459.5,442.20000000000005 Z M474.8,440.6 L472.0,439.0 L472.0,442.20000000000005 Z" fill="#222"/>
<rect x="159.50" y="478.50" width="229.20" height="121.00" fill="#fff" stroke="#a0a0a0" stroke-width="0.8"/>
<rect x="159.50" y="478.50" width="229.20" height="4.70" fill="#c6c6c6" />
<rect x="168.60" y="479.30" width="6.70" height="3.10" fill="#e0e2e4" stroke="#aaa" stroke-width="0.3"/>
<rect x="175.30" y="479.30" width="160.90" height="3.10" fill="#fff" stroke="#aaa" stroke-width="0.3"/>
<rect x="159.50" y="483.20" width="7.50" height="116.30" fill="#cfd3d7" />
<line x1="166.60" y1="483.20" x2="166.60" y2="599.50" stroke="#e6e8e6" stroke-width="0.8" />
<text x="161.70" y="482.45" font-size="4.4" fill="#111" stroke="#111" stroke-width="0.25" style="font-weight:bold" textLength="7.1" lengthAdjust="spacingAndGlyphs">Tek</text>
<clipPath id="cI"><rect x="167" y="483.2" width="221.7" height="116.3"/></clipPath>
<line x1="212.00" y1="480.90" x2="258.00" y2="480.90" stroke="#bbb" stroke-width="0.5" />
<line x1="170.00" y1="483.20" x2="170.00" y2="599.50" stroke="#cdd0d4" stroke-width="0.6" stroke-dasharray="0.7,1.62" stroke-dashoffset="1.97"/>
<line x1="187.40" y1="483.20" x2="187.40" y2="599.50" stroke="#cdd0d4" stroke-width="0.6" stroke-dasharray="0.7,1.62" stroke-dashoffset="1.97"/>
<line x1="204.80" y1="483.20" x2="204.80" y2="599.50" stroke="#cdd0d4" stroke-width="0.6" stroke-dasharray="0.7,1.62" stroke-dashoffset="1.97"/>
<line x1="222.20" y1="483.20" x2="222.20" y2="599.50" stroke="#cdd0d4" stroke-width="0.6" stroke-dasharray="0.7,1.62" stroke-dashoffset="1.97"/>
<line x1="239.60" y1="483.20" x2="239.60" y2="599.50" stroke="#cdd0d4" stroke-width="0.6" stroke-dasharray="0.7,1.62" stroke-dashoffset="1.97"/>
<line x1="274.40" y1="483.20" x2="274.40" y2="599.50" stroke="#cdd0d4" stroke-width="0.6" stroke-dasharray="0.7,1.62" stroke-dashoffset="1.97"/>
<line x1="291.80" y1="483.20" x2="291.80" y2="599.50" stroke="#cdd0d4" stroke-width="0.6" stroke-dasharray="0.7,1.62" stroke-dashoffset="1.97"/>
<line x1="309.20" y1="483.20" x2="309.20" y2="599.50" stroke="#cdd0d4" stroke-width="0.6" stroke-dasharray="0.7,1.62" stroke-dashoffset="1.97"/>
<line x1="326.60" y1="483.20" x2="326.60" y2="599.50" stroke="#cdd0d4" stroke-width="0.6" stroke-dasharray="0.7,1.62" stroke-dashoffset="1.97"/>
<line x1="344.00" y1="483.20" x2="344.00" y2="599.50" stroke="#cdd0d4" stroke-width="0.6" stroke-dasharray="0.7,1.62" stroke-dashoffset="1.97"/>
<line x1="361.40" y1="483.20" x2="361.40" y2="599.50" stroke="#cdd0d4" stroke-width="0.6" stroke-dasharray="0.7,1.62" stroke-dashoffset="1.97"/>
<line x1="378.80" y1="483.20" x2="378.80" y2="599.50" stroke="#cdd0d4" stroke-width="0.6" stroke-dasharray="0.7,1.62" stroke-dashoffset="1.97"/>
<line x1="167.00" y1="483.90" x2="388.70" y2="483.90" stroke="#cdd0d4" stroke-width="0.7" stroke-dasharray="0.8,2.68" stroke-dashoffset="0.88"/>
<line x1="167.00" y1="495.50" x2="388.70" y2="495.50" stroke="#cdd0d4" stroke-width="0.7" stroke-dasharray="0.8,2.68" stroke-dashoffset="0.88"/>
<line x1="167.00" y1="507.10" x2="388.70" y2="507.10" stroke="#cdd0d4" stroke-width="0.7" stroke-dasharray="0.8,2.68" stroke-dashoffset="0.88"/>
<line x1="167.00" y1="518.70" x2="388.70" y2="518.70" stroke="#cdd0d4" stroke-width="0.7" stroke-dasharray="0.8,2.68" stroke-dashoffset="0.88"/>
<line x1="167.00" y1="530.30" x2="388.70" y2="530.30" stroke="#cdd0d4" stroke-width="0.7" stroke-dasharray="0.8,2.68" stroke-dashoffset="0.88"/>
<line x1="167.00" y1="553.50" x2="388.70" y2="553.50" stroke="#cdd0d4" stroke-width="0.7" stroke-dasharray="0.8,2.68" stroke-dashoffset="0.88"/>
<line x1="167.00" y1="565.10" x2="388.70" y2="565.10" stroke="#cdd0d4" stroke-width="0.7" stroke-dasharray="0.8,2.68" stroke-dashoffset="0.88"/>
<line x1="167.00" y1="576.70" x2="388.70" y2="576.70" stroke="#cdd0d4" stroke-width="0.7" stroke-dasharray="0.8,2.68" stroke-dashoffset="0.88"/>
<line x1="167.00" y1="588.30" x2="388.70" y2="588.30" stroke="#cdd0d4" stroke-width="0.7" stroke-dasharray="0.8,2.68" stroke-dashoffset="0.88"/>
<line x1="167.00" y1="541.90" x2="388.70" y2="541.90" stroke="#8a8a8a" stroke-width="0.7" stroke-dasharray="1.5,1.2"/>
<line x1="257.20" y1="483.20" x2="257.20" y2="599.50" stroke="#8c8c8c" stroke-width="0.8" stroke-dasharray="1.2,0.6"/>
<circle cx="386" cy="480.7" r="1.2" fill="none" stroke="#666" stroke-width="0.5"/>
<g clip-path="url(#cI)">
<path d="M169.60,530.00 L170.40,510.00 L171.70,502.60 L173.00,505.30 L173.50,505.67 L174.80,505.59 L176.10,505.37 L177.40,506.03 L178.70,505.26 L180.00,505.70 L181.30,506.06 L182.60,505.32 L183.90,505.75 L185.20,505.80 L186.50,505.29 L187.80,505.59 L189.10,505.88 L190.40,505.66 L191.70,505.90 L193.00,505.39 L194.30,505.46 L195.60,505.35 L196.90,505.71 L198.20,506.08 L199.50,505.78 L200.80,505.95 L202.10,505.60 L203.40,505.92 L204.70,505.34 L206.00,505.51 L207.30,505.86 L208.60,505.90 L209.90,505.63 L211.20,505.33 L212.50,505.49 L213.80,505.44 L215.10,505.50 L216.40,505.98 L217.70,505.43 L219.00,506.05 L220.30,506.04 L221.60,505.30 L222.90,505.59 L224.20,505.69 L225.50,505.27 L226.80,505.63 L228.10,506.07 L229.40,505.35 L230.70,505.79 L232.00,505.36 L233.30,505.77 L234.60,506.06 L235.90,505.43 L237.20,505.26 L238.50,505.33 L239.80,505.74 L241.10,505.27 L242.40,505.33 L243.70,505.70 L245.00,506.08 L246.30,505.63 L247.60,505.61 L248.90,505.82 L250.20,505.33 L251.50,505.77 L252.80,505.41 L254.10,505.80 L255.40,506.11 L256.70,505.30 L257.00,505.70 L257.50,505.80 L259.50,509.00 L260.00,509.56 L261.30,509.44 L262.60,509.57 L263.90,509.24 L265.20,509.78 L266.50,509.79 L267.80,509.64 L269.10,509.19 L270.40,509.52 L271.70,509.34 L273.00,509.27 L274.30,509.91 L275.60,509.95 L276.90,509.09 L278.20,509.82 L279.50,509.59 L280.80,509.39 L282.10,509.31 L283.40,509.66 L284.70,509.46 L286.00,509.67 L287.30,509.65 L288.60,509.17 L289.90,509.74 L291.20,509.93 L292.50,509.92 L293.80,509.60 L295.10,509.09 L296.40,509.05 L297.70,509.17 L299.00,509.90 L300.30,509.32 L301.60,509.38 L302.90,509.86 L304.20,509.33 L305.50,509.54 L306.80,509.44 L308.10,509.11 L309.40,509.58 L310.70,509.81 L312.00,509.19 L313.30,509.25 L314.60,509.42 L315.90,509.08 L317.20,509.50 L318.50,509.79 L319.80,509.64 L321.10,509.53 L322.40,509.82 L323.70,509.18 L325.00,509.56 L326.30,509.39 L327.60,509.59 L328.90,509.15 L330.20,509.75 L331.50,509.14 L332.80,509.20 L334.10,509.78 L335.40,509.90 L336.70,509.44 L338.00,509.42 L339.30,509.27 L340.60,509.30 L341.90,509.61 L343.20,509.21 L344.50,509.16 L345.80,509.46 L347.10,509.20 L348.40,509.63 L349.70,509.79 L351.00,509.75 L352.30,509.48 L353.60,509.36 L354.90,509.44 L356.20,509.05 L357.50,509.69 L358.80,509.35 L360.10,509.34 L361.40,509.12 L362.70,509.45 L364.00,509.57 L365.30,509.40 L366.60,509.83 L367.90,509.66 L369.20,509.27 L370.50,509.52 L371.80,509.87 L373.10,509.52 L374.40,509.59 L375.70,509.11 L377.00,509.49 L378.30,509.47 L379.60,509.41 L380.90,509.43 L382.20,509.58 L383.50,509.53 L384.80,509.49 L386.10,509.20 L387.40,509.45 L388.70,509.92 L389.00,509.50" fill="none" stroke="#d696d6" stroke-width="0.9" stroke-linejoin="round" />
</g>
<path d="M166.4,487.9 L169.4,486.2 L169.4,489.6 Z" fill="#e8863a"/>
<circle cx="257" cy="480.7" r="1.1" fill="#e8863a"/>
<path d="M255.2,483.1 L258.8,483.1 L257,486 Z" fill="#e8863a"/>
<path d="M161.2,540.2 L165.2,541.9 L161.2,543.6 Z" fill="#c865c8"/>
<line x1="195.00" y1="495.00" x2="225.00" y2="495.00" stroke="#444" stroke-width="0.6" stroke-dasharray="0.9,0.9"/>
<line x1="195.00" y1="495.00" x2="195.00" y2="502.00" stroke="#444" stroke-width="0.6" stroke-dasharray="0.9,0.9"/>
<path d="M192.8,502.5 L197.2,502.5 L195,506.25 Z M192.8,510 L197.2,510 L195,506.25 Z" fill="#111"/>
<line x1="194.90" y1="510.00" x2="194.90" y2="542.00" stroke="#333" stroke-width="0.8" />
<text x="230.00" y="497.50" font-size="6.8" text-anchor="start" fill="#151515" style=""  stroke="#151515" stroke-width="0.18">10V/div</text>
<text x="324.60" y="595.80" font-size="6.8" text-anchor="start" fill="#151515" style=""  stroke="#151515" stroke-width="0.18">400ms/div</text>
<line x1="331.10" y1="581.70" x2="348.60" y2="581.70" stroke="#222" stroke-width="0.7" />
<path d="M328.7,581.7 L331.5,580.1 L331.5,583.3000000000001 Z M351,581.7 L348.2,580.1 L348.2,583.3000000000001 Z" fill="#222"/>
</g></svg></body></html>
